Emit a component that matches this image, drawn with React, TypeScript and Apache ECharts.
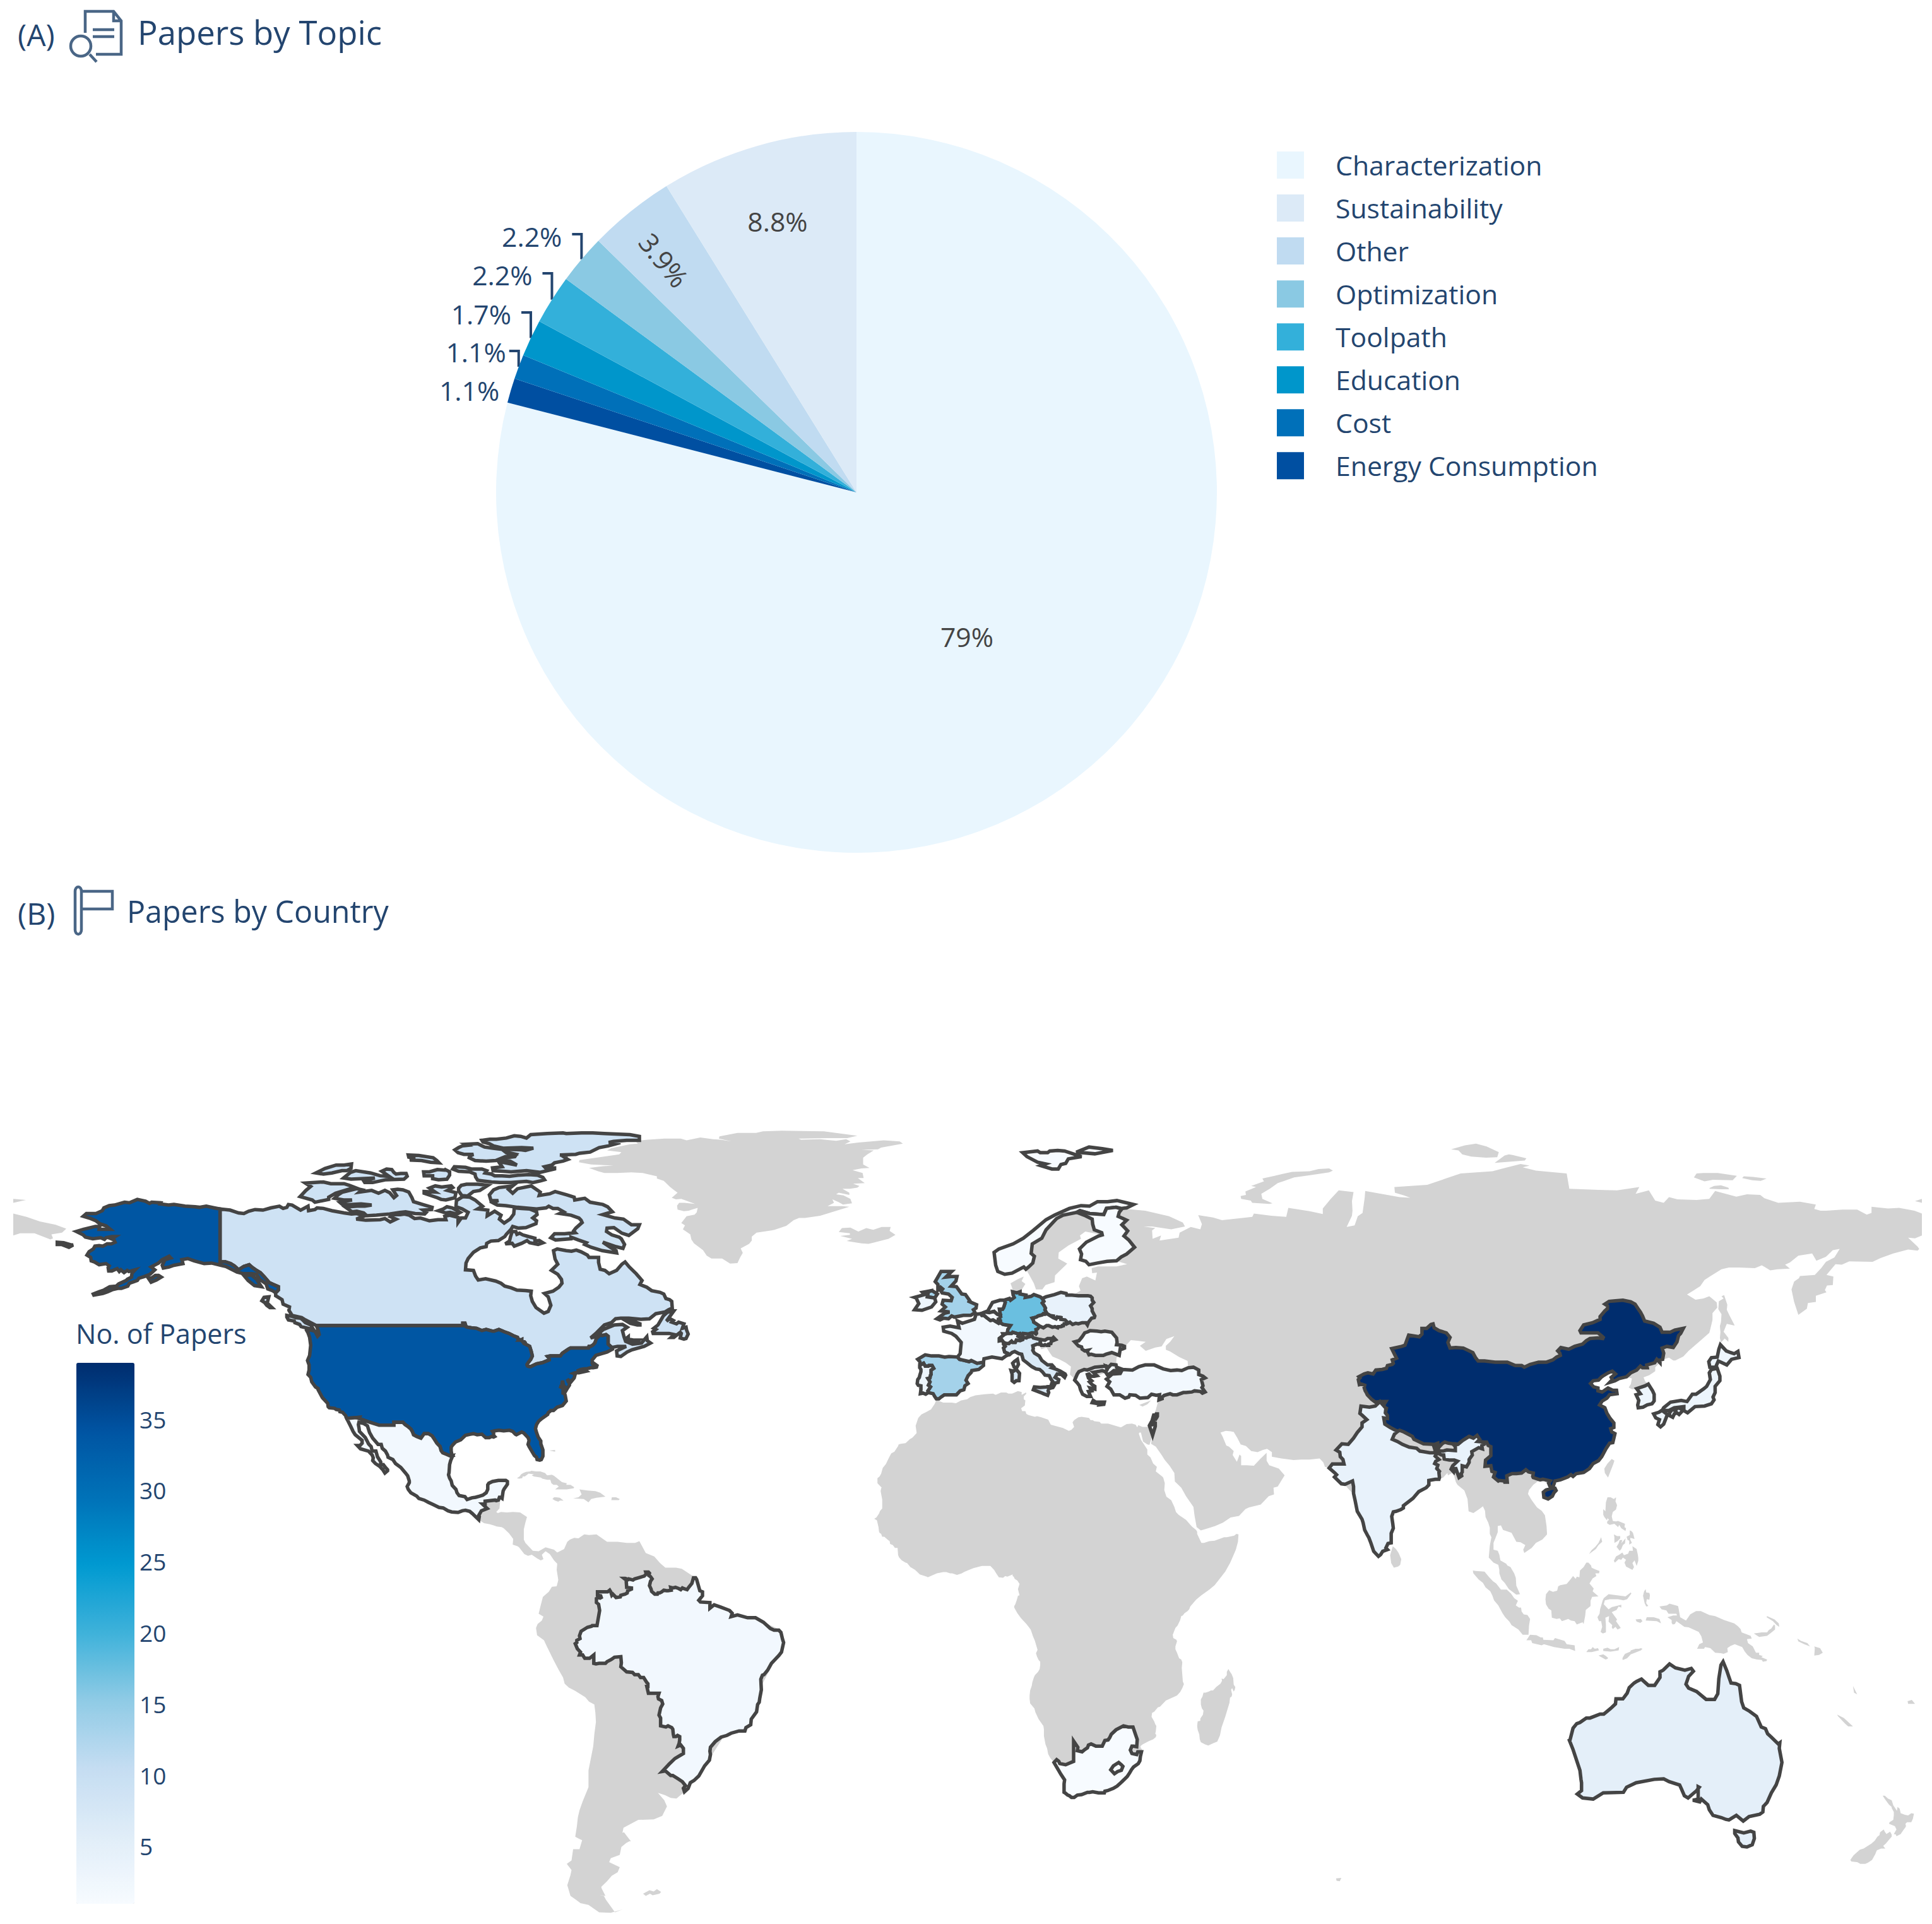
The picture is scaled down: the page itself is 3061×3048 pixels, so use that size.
import React, { useEffect, useRef } from "react";
import * as echarts from "echarts";

// ---------- Pie data ----------
const TOPICS = ["Characterization", "Energy Consumption", "Cost", "Education", "Toolpath", "Optimization", "Other", "Sustainability"];
const TOPIC_COUNTS = [143, 2, 2, 3, 4, 4, 7, 16];
const TOPIC_COLORS = ["#e9f6fe", "#004fa1", "#0070b9", "#0096cb", "#33b0da", "#8ac9e3", "#c0dbf1", "#dceaf7"];
const LEGEND_ORDER = ["Characterization", "Sustainability", "Other", "Optimization", "Toolpath", "Education", "Cost", "Energy Consumption"];

// ---------- Choropleth data ----------
const COUNTRY_VALUES: [string, number][] = [
  ["China", 39], ["United States", 34], ["Germany", 17.5], ["United Kingdom", 13.5], ["Spain", 13.5], ["Canada", 9],
  ["Italy", 7], ["Australia", 5], ["India", 4], ["Poland", 4], ["Japan", 3], ["South Korea", 3], ["Portugal", 3],
  ["Ireland", 3], ["Brazil", 2], ["Mexico", 2], ["France", 2], ["Turkey", 2], ["Switzerland", 2], ["Finland", 1],
  ["Norway", 1], ["Romania", 1], ["South Africa", 1], ["Greece", 1], ["Israel", 1], ["Czech Republic", 1],
  ["Netherlands", 1], ["Belgium", 1], ["Slovenia", 1], ["Lesotho", 1],
];
const COLOR_STOPS = ["#f7fbff", "#e0edf8", "#c5ddf2", "#90cbe5", "#3fb2da", "#009ad1", "#0072b8", "#0054a2", "#002d6e"];
const COLORBAR_TICKS = [5, 10, 15, 20, 25, 30, 35];
const COLORBAR_MIN = 1;
const COLORBAR_MAX = 39;

// ---------- Outlines, lon,lat ----------
const LAND: Record<string, string[]> = {
  Eurasia: ["-5.4,36.1 -4.4,36.7 -2.1,36.7 -0.7,37.6 0.2,38.8 -0.3,39.5 0.9,41 3.2,41.9 3.1,43.1 4.6,43.4 6.5,43.1 7.4,43.7 8.9,44.4 10.2,43.9 10.5,42.9 12.2,41.8 13.6,41.2 15.5,40 16,38.8 15.7,38 16.4,38.4 17.1,39 16.9,40.4 18.4,39.9 18.5,40.2 16.9,41.1 15.9,41.9 14.2,42.4 13.5,43.6 12.4,44.3 12.3,45 13.1,45.7 13.6,45.5 13.9,44.8 14.9,45.1 15.4,44.3 16,43.5 17.3,43 18.5,42.4 19.5,41.7 19.3,40.3 20.1,39.6 21.1,38.3 21.7,36.8 23.2,36.4 22.8,37.3 23.9,38 23.3,39 22.6,40.3 23.3,40 24.4,40.1 26.1,40.6 27.6,41 28.9,41.1 29.05,41.25 28.1,41.6 28,42 28.1,43.3 28.6,43.8 28.7,44.9 29.7,45.3 30.8,46.4 32,46.3 33.6,46.1 32.5,45.4 33.6,44.5 35.4,45.1 36.6,45.3 37.5,46.6 39,47.1 38.2,46.1 37.4,45.4 37.4,44.7 38.2,44.4 39.9,43.4 41.5,42.7 41.6,41.6 40,41 38,41 36.9,41.3 35.2,42 33.5,42 32.3,41.7 31.1,41.1 29.2,41.2 29,40.6 27.3,40.4 26.2,39.5 26.9,39 27.3,37.7 27.6,37 28.8,36.7 30.6,36.7 32.5,36.1 34.7,36.8 36.1,36.7 35.9,35.4 35.5,34 35,33 34.9,32.5 34.3,31.2 34.9,29.5 34.6,28 35.5,27.5 36.6,26 37.2,25.1 38.1,24.1 39,22.8 39.1,21.3 40.3,20.2 41.2,18.7 42.6,16.8 42.8,15.3 43.2,13.2 44,12.6 45.4,13 46.7,13.4 48.2,14 49.6,14.9 51.2,15.2 52.4,16.4 53.1,16.7 55.3,17.2 56.8,18.7 57.8,19 57.7,20.2 58.5,20.4 59.8,22.4 58.7,23.6 56.9,24.2 56.4,25 56.4,26.4 55.2,25.3 54,24.1 52.6,24.2 51.6,24.2 51.6,25.8 51.3,26.1 50.8,24.8 50,26 50.2,26.7 49.3,27.5 48.8,27.7 48.1,29.3 47.7,30 48.7,30.3 49.6,30.2 50.2,30.1 50.9,29 51.5,27.9 52.5,27.6 53.5,26.7 54.7,26.5 55.7,26.9 56.5,27.1 57.4,26.5 57.4,25.7 59.2,25.4 61.5,25.1 62.9,25.2 64.5,25.2 66.4,25.4 67.1,24.7 67.4,23.9 68.2,23.7 72.8,19 74.9,13 76.8,9 77.5,8 80,10.4 80.3,15.9 82.2,16.6 86.5,20.2 87,21.4 88.9,21.7 89.7,22 90.5,22.8 90.6,22.4 91.4,22.8 91.8,22.2 92.1,21.2 92.4,20.7 93.7,19.7 94.3,18.2 94.5,16 95.4,15.7 96.5,16.4 97.2,16.9 97.6,16.1 97.7,15 98.2,14 98.5,13.1 98.5,12 98.8,11.4 98.5,9.9 98.3,7.8 99.2,6.9 100.1,6.5 100.3,5.6 100.3,5 100.7,3.9 101.3,3.3 102.1,2.2 103.5,1.2 104.2,1.3 103.5,2.8 103.4,4.2 103.1,5 102.4,6.1 101.8,6.4 101.6,6.7 100.5,7.3 100.3,8.3 100,9 99.2,9.2 99.2,10.4 99.5,11.1 100,12.3 100,13.4 100.6,13.5 101,12.7 102.6,12.2 103.5,10.6 104.3,10.5 105.2,10 104.8,9.2 105,8.6 106.4,9.5 107.2,10.4 108.4,11 109.3,11.9 109.2,13.4 108.9,15.3 108.3,16.1 107.4,16.7 106.4,18 105.7,19.1 105.9,19.8 106.7,20.7 107.5,21.3 108.5,21.7 109.9,20.3 110.4,21.4 110.8,21.4 111.8,21.6 113.2,22.1 114.2,22.2 116.2,22.9 117.3,23.6 118,24.5 119,25 119.6,26 120.4,27.1 121.1,28.1 121.7,28.2 121.9,29 121.3,30.3 121.9,30.9 121.2,31.9 120,33 120.5,34.1 119.2,34.9 120.6,36.1 121.1,36.7 122.5,36.9 121,37.7 119.7,37.2 118.9,37.4 118,38 117.5,38.7 118.1,39.2 119,39.3 120,40 121.6,40.9 121.4,39.4 122.1,39.6 124.3,39.9 125.3,39.6 125.1,38.6 124.7,38 125.3,37.7 126.2,37.7 126.7,37.4 126.2,36.7 126.9,36.9 126.2,35.5 126.3,34.9 127.4,34.5 128.2,34.9 129.1,35.1 129.5,36 129.5,36.8 129.2,37.4 128.4,38.6 127.8,39.1 127.5,39.8 128.6,40.2 129.7,40.9 129.7,41.6 130.6,42.4 131.3,43 132.3,43.3 133.1,42.8 133.5,42.8 135,43.5 136,44.5 138.2,46.3 139.9,47.7 140.1,48.4 140.5,50 140.5,51.2 141.4,52.2 141.3,53.1 139.9,54.2 138.8,53.8 137.3,53.6 135.7,54.5 136.9,55.2 138.2,56 139,57.1 140,57.7 142.2,59 143.6,59.3 145.5,59.3 148.5,59.2 149.8,59.7 151.4,58.8 152.8,59 155.1,59.1 154.2,59.8 155.1,60.2 156.7,61.4 159.3,61.8 160.1,60.5 161.9,61.2 163.2,62.4 164.5,62.6 163.5,61.1 161.9,60.3 161,59.2 159.8,58 157,57.8 156.8,57.4 155.9,56.8 155.4,55.4 155.9,53.2 156.7,50.9 158.3,52 158.5,53 160,53.2 160,54.3 162,54.9 161.7,55.3 162.1,56.1 163.2,56.2 163.3,57.7 162,58 163.7,59.9 164.9,59.8 166.3,60.4 170.7,60.3 172.2,61 174.6,61.8 177.4,62.5 179.2,62.3 179.5,62.6 179.2,63 177.4,64.6 178.7,64.5 180,65 180,68.9 178.6,69.4 175.7,69.9 173.6,69.8 170.5,70.1 170.5,69 169.6,68.7 167.8,69.6 165,69.6 161.9,69.4 160.9,69.4 159.7,69.7 160,70.5 157,71 152.9,70.8 150.3,71.6 149.5,72.2 147,72.3 145,71.9 141,72.9 139.9,71.5 137.5,71.3 133.9,71.4 132.3,71.8 131.3,70.8 129.7,71.2 128.5,73 126,72.4 126.7,73.6 122.5,73 119,73.1 113.5,73.3 113,76 107.2,76.5 104.7,77.1 106,77.4 104.3,77.7 101,76.9 99,76.4 93,76 86.7,74 80.5,73.6 80.6,72.6 82.3,72.1 83.5,71.7 81.5,71.8 78,72.4 75,72.9 74.9,71.7 74.5,69 73.6,68.4 73,66.8 71.5,66.5 72.5,68.5 72.6,69.4 72.5,71.1 72.8,72.7 70,73 68.5,71.5 67,69.8 67,68.8 64.5,69.3 60.5,69.9 60.1,68.3 57.3,68.5 54,68.9 53.7,68.3 48,67.7 46.3,68.2 43.5,68.6 44.2,67 43.9,66.1 42.1,66.5 40,65.5 39.8,64.6 36.2,64.1 36.5,65 34.9,64.4 34.8,65.9 35.4,66.3 33.2,66.6 34.8,66.6 38.4,66.1 41,66.6 40.6,67.3 38,68.4 33.5,69.4 30,69.7 31,70.3 28,71.1 25.7,71.1 23,70.2 19,69.8 16,68.6 14,67 12.7,65 10,63.5 6,62.5 5,61 5.3,59.5 5.7,58.6 7,58 8.5,58.3 10.4,59.4 11,59 11.5,58.2 12.5,56.5 12.9,55.4 14.1,55.4 14.7,56.2 16.4,56.7 16.5,57.9 18.8,60 17.1,60.9 17.2,62 19,63.2 21.4,64.4 21.2,65 22.2,65.7 25.4,65.1 23.9,64 21.5,63 21.4,61.5 21.3,60.7 22.9,59.8 25.4,60.4 28,60.5 30.1,59.9 28.1,59.5 24.6,59.5 23.4,59.2 23.5,58.3 24.4,58.4 24.1,57 22.5,57.7 21.6,57.4 21,56 21.3,55.2 19.9,54.4 18.6,54.7 17.6,54.9 16.4,54.4 14.1,53.8 12.3,54.2 10.9,54 11,54.4 9.9,54.9 10.9,56.4 10.2,56.9 10.6,57.7 9.4,57.2 8.1,56.5 8.5,55.4 8.5,54.4 8.9,53.9 7.9,53.7 7.1,53.7 5,52.4 4,51.3 2.5,51.1 1.6,50.9 0.2,49.7 -1.2,49.4 -1.9,49.7 -1.6,48.6 -4.6,48.7 -4.5,47.9 -2.2,47.1 -1.2,46 -1.6,43.6 -1.9,43.4 -4.3,43.4 -8,43.7 -9.3,43 -9,41.9 -8.8,40.8 -9.4,39.4 -9.5,38.7 -8.9,37 -7.5,37.1 -6.2,36.4 -5.4,36.1"],
  Chukotka: ["-180,65 -178.7,65.4 -176,65.4 -173,64.3 -172.5,64.5 -172.8,65.2 -170.8,65.5 -170,66.2 -172,66.9 -175,67.5 -177.5,68.3 -180,68.9"],
  Africa: ["-5.9,35.8 -4.6,35.3 -3,35.3 -2.2,35.2 -1.2,35.7 -0.1,35.9 0.5,36.3 1.5,36.6 3.2,36.8 4.8,36.9 5.3,36.7 6.3,37.1 7.3,37.1 7.7,36.9 8.4,36.9 9.5,37.35 10.2,37.2 10.2,36.7 11,37.1 11.1,36.9 10.6,36.4 10.6,35.9 10.9,35.7 10.8,34.8 10.1,34.3 10.3,33.8 10.9,33.8 11.1,33.3 11.5,33.1 12.7,32.8 13.1,32.9 13.9,32.7 15.2,32.3 15.7,31.4 18,30.8 19.1,30.3 19.6,30.5 20.1,31 19.8,31.8 20.1,32.2 20.9,32.7 21.5,32.8 22.9,32.6 23.2,32.2 23.6,32.2 23.9,32 24.9,31.9 25.2,31.6 26.5,31.6 28.9,30.9 30,31.5 31,31.6 31.7,31.4 32,30.9 32.2,31.3 33,31 33.8,31 34.3,31.2 34.9,29.5 34.3,27.8 33.9,27.9 33.1,28.4 32.7,30 32.4,30 32.3,29.8 32.7,28.7 33.2,28 33.9,27 33.9,26.1 34.5,25.6 35,24.5 35.7,23.9 35.5,23.1 36.7,22.2 36.9,22 37.2,21 37.1,19.8 37.5,18.6 38.4,18 39,16.8 39.3,15.9 39.8,15.4 41.2,14.5 42.3,13.3 43.1,12.7 43.3,12.4 43.3,12 44.1,10.4 44.6,10.4 45.6,10.7 46.6,10.8 47.5,11.1 48.4,11.4 48.9,11.4 50.3,11.7 50.7,12 51.1,11.9 51,10.6 50.6,9.2 50.1,8.1 49.5,6.8 48.6,5.3 47.7,4.2 46.6,2.9 45.6,2.1 44.1,1.1 43.1,0.3 42,-0.9 41.8,-1.4 41.5,-1.7 40.9,-2.1 40.6,-2.5 40.3,-2.6 40.1,-3.3 39.6,-4.3 39.2,-4.7 38.7,-5.9 38.8,-6.5 39.4,-6.8 39.5,-7.1 39.2,-8 39.2,-8.5 39.5,-9.1 39.9,-10.1 40.3,-10.3 40.5,-10.8 40.4,-11.8 40.6,-14.2 40.8,-14.7 40.5,-15.4 40.1,-16.1 39.5,-16.7 37.4,-17.6 36.3,-18.7 35.9,-18.8 35.2,-19.6 34.8,-19.8 34.7,-20.5 35.2,-21.3 35.4,-21.8 35.6,-22.1 35.5,-23.1 35.4,-23.5 35.6,-23.7 35.5,-24.1 35,-24.5 34.2,-24.8 33,-25.4 32.6,-25.7 32.7,-26.1 32.9,-26.2 32.8,-26.7 32.6,-27.5 32.5,-28.3 32.2,-28.8 31.3,-29.4 30.9,-29.9 30.6,-30.4 30.1,-31.1 28.9,-32.2 28.2,-32.8 27.5,-33.2 26.4,-33.6 25.9,-33.7 25.8,-34 25.2,-34 24.7,-34 23.6,-33.8 23,-33.9 22.6,-33.9 21.5,-34.3 20.7,-34.4 20.1,-34.8 19.6,-34.8 19.2,-34.5 18.9,-34.4 18.4,-34 18.2,-33.9 18.2,-33.3 18.2,-32.4 18.2,-31.7 17.6,-30.7 17.1,-29.9 16.3,-28.6 15.6,-27.8 15.2,-27.1 15,-26.1 14.7,-25.4 14.4,-23.9 14.4,-22.7 14.3,-22.1 13.4,-20.9 12.8,-19.7 12.6,-19 11.8,-18.1 11.7,-17.3 11.7,-16.7 11.8,-15.8 12.1,-15 12.2,-14.4 12.5,-13.5 12.7,-13.1 13.3,-12.5 13.6,-12 13.7,-11.3 13.7,-10.7 13.4,-10.4 13.1,-9.8 12.9,-9.2 13.2,-8.6 12.7,-7 12.3,-6.1 12.2,-5.8 11.9,-5 11.1,-4 10.1,-3 9.4,-2.1 8.8,-1.1 8.8,-0.8 9,-0.5 9.3,0.3 9.5,1 9.8,1.1 9.5,2.2 9.8,3.1 9.4,3.7 8.9,4 8.7,4.4 8.5,4.5 8.5,4.8 7.5,4.4 7.1,4.5 6.7,4.2 5.9,4.3 5.4,5 5,5.6 4.3,6.3 3.6,6.3 2.7,6.3 1.9,6.1 1.1,5.9 0.5,5.7 -0.5,5.3 -1.1,5 -2,4.7 -2.9,5 -3.3,5 -4,5.2 -4.6,5.2 -5.8,5 -7.5,4.3 -7.7,4.4 -9,4.8 -9.9,5.6 -10.8,6.1 -11.4,6.8 -11.7,6.9 -12.4,7.3 -12.9,7.8 -13.1,8.2 -13.2,9.5 -13.7,9.5 -14.1,10 -14.6,10.2 -14.7,10.7 -15.1,11 -15.7,11.5 -16.1,11.5 -16.3,12 -16.6,12.2 -16.7,12.4 -16.8,13.2 -17.1,14.4 -17.6,14.7 -17.2,14.9 -16.7,15.6 -16.5,16.1 -16.1,16.5 -16.1,18.1 -16.3,19.1 -16.4,19.6 -16.3,20.1 -16.2,20.2 -17,21 -17,21.4 -17,21.9 -16.6,22.2 -16.3,22.7 -16,23.7 -15.4,24.4 -15.1,25 -14.8,25.6 -14.4,26.3 -13.8,26.6 -13.1,27.6 -13,27.9 -12.6,28 -11.7,28.1 -10.9,28.8 -10.4,29.1 -9.6,29.9 -9.8,31.2 -9.3,32.6 -8.7,33.2 -7.7,33.7 -6.9,34.1 -6.2,35.1 -5.9,35.8"],
  Americas: ["-92.2,14.5 -91.2,13.9 -90.1,13.7 -89.4,13.5 -88.8,13.3 -87.9,13.2 -87.5,13 -86.5,12.1 -85.7,11.1 -85.8,10.1 -84.9,9.8 -84.6,9.6 -83.6,8.4 -82.9,8.1 -82.2,8.3 -81.2,7.65 -80.5,7.3 -80,7.5 -80.3,8.3 -79.6,8.9 -78.8,8.4 -78,7.3 -77.4,6.7 -77.5,5.6 -77.2,3.8 -77.5,2.7 -78.4,2.6 -79,1.7 -80.1,0.8 -80.6,-1 -80.9,-2.2 -80,-2.7 -80.3,-3.4 -81.1,-4 -81.4,-4.7 -81.2,-6 -79.9,-6.9 -79.4,-7.9 -78.1,-10.4 -77.1,-12.2 -76.3,-13.5 -76,-14.6 -75.2,-15.3 -74,-15.9 -72.1,-17 -71.4,-17.8 -70.4,-18.3 -70.2,-19.8 -70.1,-21.4 -70.4,-23.6 -70.6,-25.7 -71,-27.6 -71.5,-30 -71.5,-33 -72.6,-35.5 -73.2,-37.1 -73.5,-38.3 -73.7,-40 -74,-41.8 -73.4,-42.1 -72.7,-42.4 -73.2,-44 -74.4,-44 -74.7,-46 -75.6,-46.6 -74.7,-47.7 -74.9,-48.6 -75.5,-50.4 -74.9,-52.3 -74,-52.9 -73,-53.6 -71.5,-53.9 -69.5,-55.2 -67.3,-55.3 -65.1,-54.7 -66.5,-55.2 -68.2,-53 -68.6,-52.3 -69.5,-52.1 -68.3,-52.3 -69,-51 -69.1,-50.7 -68,-49.7 -67.1,-48.7 -66,-48.1 -65.6,-47.2 -67.6,-46.3 -67.3,-45.6 -65.6,-45 -65.3,-43.6 -64.4,-42.9 -63.8,-42.6 -63.5,-42.6 -64.8,-41 -65.1,-41.1 -64.9,-40.2 -62.1,-38.8 -59.2,-38.7 -57.6,-38.1 -56.7,-36.4 -57.2,-35.3 -58.4,-34 -57.1,-34.4 -56,-34.9 -54.9,-35 -53.4,-33.8 -52.7,-33.2 -51,-31 -48.7,-28 -46,-24 -42,-23 -40,-20 -38.9,-15 -35,-8 -35.5,-5 -40,-3 -44,-2.5 -48,-1 -50,0 -51.3,4.2 -52.6,5 -53.9,5.8 -55,6 -57,6 -58,6.8 -59.1,8 -60.7,8.6 -61.9,10.7 -62.7,10.4 -64.3,10.4 -66,10.6 -68,10.6 -70,11.9 -71.4,11.8 -72.3,11.9 -73.4,11.2 -74.2,11.3 -75,11 -75.5,10.6 -76.1,9.3 -77.4,8.7 -78,9.2 -79.6,9.6 -80.9,8.9 -82,9 -83.4,10.4 -83.7,11 -83.7,12.8 -83.4,14 -83.1,15 -84.4,15.8 -85.7,15.9 -86.9,15.8 -88,15.9 -88.6,15.7 -88.9,15.9 -88.3,16.5 -88.2,17.5 -88.1,18.4 -88.3,18.5 -91,17.8 -91,17.2 -90.6,16.5 -91.7,16.1 -92.2,15.2 -92.2,14.5"],
  Greenland: ["-46.8,82.6 -43.4,83.2 -39.9,83.2 -38.6,83.5 -35.1,83.6 -27.1,83.5 -20.8,82.7 -22.7,82.3 -26.5,82.3 -31.9,82.2 -31.4,82 -27.9,82.1 -24.8,81.8 -22.9,82.1 -22.1,81.7 -23.2,81.2 -20.6,81.5 -15.8,81.9 -12.8,81.7 -12.2,81.3 -16.3,80.6 -16.9,80.3 -20,80.2 -17.7,80.1 -18.9,79.4 -19.7,78.8 -19.7,77.6 -18.5,77 -20,76.9 -21.7,76.6 -19.8,76.1 -19.6,75.2 -20.7,75.2 -19.4,74.3 -21.6,74.2 -20.4,73.8 -20.8,73.5 -22.2,73.3 -23.6,73.3 -22.3,72.6 -22.3,72.2 -24.3,72.6 -24.8,72.3 -23.4,72.1 -22.1,71.5 -21.8,70.7 -23.5,70.5 -24.3,70.9 -25.5,71.4 -25.2,70.8 -26.4,70.2 -23.7,70.2 -22.3,70.1 -25,69.3 -27.8,68.5 -30.7,68.1 -31.8,68.1 -32.8,67.7 -34.2,66.7 -36.4,66 -37,65.9 -38.4,65.7 -39.8,65.5 -40.7,64.8 -40.7,64.1 -41.2,63.5 -42.8,62.7 -42.4,61.9 -42.9,61.1 -43.4,60.1 -44.8,60 -46.3,60.9 -48.3,60.9 -49.2,61.4 -49.9,62.4 -51.6,63.6 -52.1,64.3 -52.3,65.2 -53.7,66.1 -53.3,66.8 -54,67.2 -53,68.4 -51.5,68.7 -51.1,69.1 -50.9,69.9 -52,69.6 -52.6,69.4 -53.5,69.3 -54.7,69.6 -54.8,70.3 -54.4,70.8 -53.4,70.8 -51.4,70.6 -53.1,71.2 -54,71.5 -55,71.4 -55.8,71.7 -54.7,72.6 -55.3,73 -56.1,73.6 -57.3,74.7 -58.6,75.1 -58.6,75.5 -61.3,76.1 -63.4,76.2 -66.1,76.1 -68.5,76.1 -69.7,76.4 -71.4,77 -68.8,77.3 -66.8,77.4 -71,77.6 -73.3,78 -73.2,78.4 -69.4,78.9 -65.7,79.4 -65.3,79.8 -68,80.1 -67.2,80.5 -63.7,81.2 -62.2,81.3 -62.7,81.8 -60.3,82 -57.2,82.2 -54.1,82.2 -53,81.9 -50.4,82.4 -48,82.1 -46.6,82 -44.5,81.7 -46.9,82.2 -46.8,82.6"],
  Islands: [
    "-14.5,66.5 -14.7,65.8 -13.6,65.1 -14.9,64.4 -17.8,63.7 -18.7,63.5 -20,63.6 -22.8,64 -21.8,64.4 -24,64.9 -22.2,65.1 -22.2,65.4 -24.3,65.6 -23.7,66.3 -22.1,66.4 -20.6,65.7 -19.1,66.3 -17.8,66 -16.2,66.5 -14.5,66.5",
    "53.5,73.8 55.9,74.6 55.6,75.1 57.9,75.6 61.2,76.3 64.5,76.4 66.2,76.8 68.2,76.9 68.9,76.5 68.2,76.2 64.6,75.7 61.6,75.3 58.5,74.3 57,73.3 55.4,72.4 55.6,71.5 57.5,70.7 56.9,70.6 53.7,70.8 53.4,71.2 51.6,71.5 51.5,72 52.5,72.2 52.4,72.8 54.4,73.6 53.5,73.8",
    "143.7,50.8 144.7,49 143.2,49.3 142.6,47.9 143.5,46.8 143.5,46.1 142.8,46.7 142.1,46 141.9,46.8 142,47.8 141.9,48.9 142.1,49.6 142.2,51 141.6,51.9 141.7,53.3 142.6,53.8 142.2,54.2 142.7,54.4 143.3,52.7 143.2,51.8 143.7,50.8",
    "121.8,24.4 120.8,22 120.2,22.8 120.1,23.6 120.7,24.5 121.5,25.3 122,25 121.8,24.4",
    "81.8,7.5 81.6,6.5 81.2,6.2 80.4,6 79.9,6.8 79.7,8.2 80.2,9.8 80.8,9.3 81.3,8.6 81.8,7.5",
    "49.5,-12.5 49.8,-12.9 50.1,-13.6 50.2,-14.8 50.5,-15.2 50.4,-15.7 50.2,-16 49.9,-15.4 49.7,-15.7 49.9,-16.5 49.8,-16.9 49.5,-17.1 49.4,-18 48.6,-20.5 47.9,-22.4 47.6,-23.8 47.1,-24.9 46.3,-25.2 45.4,-25.6 44.8,-25.4 44,-25 43.8,-24.5 43.7,-23.6 43.4,-22.8 43.3,-22.1 43.4,-21.3 43.9,-21.2 43.9,-20.8 44.4,-20.1 44.5,-19.4 44.2,-19 44,-18.3 44,-17.4 44.3,-16.9 44.5,-16.2 44.9,-16.2 45.5,-16 45.9,-15.8 46.3,-15.8 46.9,-15.2 47.7,-14.6 48,-14.1 47.9,-13.7 48.3,-13.8 48.9,-13.1 48.9,-12.5 49.2,-12 49.5,-12.5",
    "95.3,5.5 95.9,5.4 97.5,5.3 98.4,4.3 99.1,3.6 99.7,3.2 100.6,2.1 101.7,2.1 102.5,1.4 103.1,0.6 103.8,0.1 103.4,-0.7 104,-1.1 104.4,-1.1 104.5,-1.8 104.9,-2.3 105.6,-2.4 106.1,-3.1 105.9,-4.3 105.8,-5.9 104.7,-5.9 103.9,-5 102.6,-4.2 102.2,-3.6 101.4,-2.8 100.9,-2.1 100.1,-0.7 99.3,0.2 99,1 98.6,1.8 97.7,2.5 97.2,3.3 96.4,3.9 95.4,5 95.3,5.5",
    "106.1,-5.9 107.3,-6 108.1,-6.4 108.5,-6.4 108.6,-6.8 110.5,-6.9 110.8,-6.5 112.6,-7 113,-7.6 114.5,-7.8 114.6,-8.8 113.5,-8.4 112.6,-8.4 110.6,-8.1 108.7,-7.6 108.3,-7.8 106.5,-7.4 106.3,-6.9 105.4,-6.9 106.1,-5.9",
    "117.9,4.1 117.3,3.2 118.1,2.3 117.9,1.8 119,0.9 117.8,0.8 117.5,0.1 117.5,-0.8 116.6,-1.5 116.5,-2.5 116.2,-4 116,-3.7 114.9,-4.1 114.5,-3.5 113.8,-3.4 113.3,-3.1 112.1,-3.5 111.7,-3 111.1,-3.1 110.2,-2.9 110.1,-1.6 109.6,-1.3 109.1,-0.5 109,0.4 109.1,1.3 109.7,2 110.4,1.7 111.2,1.9 111.4,2.7 111.8,2.9 113,3.1 113.7,3.9 114.2,4.5 114.7,4 114.9,4.4 115.4,4.3 115.5,5.5 116.2,6.1 116.7,6.9 117.1,6.9 117.6,6.4 117.7,6 118.4,5.7 119.2,5.4 119.1,5 118.4,5 118.6,4.5 117.9,4.1",
    "125.1,1.6 125.2,1.4 124.4,0.4 123.7,0.2 122.7,0.4 121.1,0.4 120.2,0.2 120,-0.5 120.9,-1.4 121.5,-1 123.3,-0.6 123.3,-1.1 122.8,-0.9 122.4,-1.5 121.5,-1.9 122.5,-3.2 122.3,-3.5 123.2,-4.7 122.6,-5 122.2,-4.5 121.7,-4.9 121.5,-4.6 121.6,-4.2 120.9,-3.6 121,-2.6 120.3,-2.9 120.4,-4.1 120.4,-5.5 119.8,-5.7 119.4,-5.4 119.7,-4.5 119.5,-3.5 119.1,-3.5 118.8,-2.8 119.2,-2.2 119.3,-1.4 119.8,0.2 120,0.6 120.9,1.3 124.1,0.9 125.1,1.6",
    "141,-2.6 142.7,-3.3 144.6,-3.9 145.3,-4.4 145.8,-4.9 146,-5.5 147.7,-6.1 147.9,-6.6 147,-6.7 147.2,-7.4 148.1,-8 148.7,-9.1 149.3,-9.1 149.3,-9.5 150,-9.7 149.7,-9.9 150.8,-10.3 150.7,-10.6 150,-10.7 149.8,-10.4 148.9,-10.3 147.9,-10.1 147.1,-9.5 146.6,-8.9 146.1,-8.1 144.7,-7.6 143.9,-7.9 143.3,-8.3 143.4,-9 142.6,-9.3 142.1,-9.2 141,-9.1 140.1,-8.3 139.1,-8.1 138.9,-8.4 137.6,-8.4 138,-7.6 138.7,-7.3 138.4,-6.2 137.9,-5.4 136,-4.6 135.2,-4.5 133.7,-3.5 133.4,-4 133,-4.1 132.8,-3.8 132.8,-3.3 132,-2.8 133.1,-2.5 133.8,-2.5 133.7,-2.2 132.2,-2.2 131.8,-1.6 130.9,-1.4 130.5,-0.9 131.9,-0.7 132.4,-0.4 134,-0.8 134.1,-1.2 134.4,-2.8 135.5,-3.4 136.3,-2.3 137.4,-1.7 138.3,-1.7 139.2,-2.1 139.9,-2.4 141,-2.6",
    "121.3,18.5 121.9,18.2 122.3,18.5 122.3,18.2 122.2,17.8 122.5,17.1 122.3,16.3 121.7,15.9 121.5,15.1 121.7,14.3 122.3,14.2 122.7,14.3 124,13.8 123.9,13.2 124.2,13 124.1,12.5 123.3,13 122.9,13.6 122.7,13.2 122,13.8 121.1,13.6 120.6,13.9 120.7,14.3 121,14.5 120.7,14.8 120.6,14.4 120.1,15 119.9,15.4 119.9,16.4 120.3,16 120.4,17.6 120.7,18.5 121.3,18.5",
    "126.4,8.4 126.5,7.8 126.5,7.2 126.2,6.3 125.8,7.3 125.4,6.8 125.7,6.1 125.4,5.6 124.2,6.2 123.9,6.9 124.2,7.4 123.6,7.8 123.3,7.4 122.8,7.5 122.1,6.9 121.9,7.2 122.3,8 122.9,8.3 123.5,8.7 123.8,8.2 124.6,8.5 124.8,9 125.5,9 125.4,9.8 126.2,9.3 126.3,8.8 126.4,8.4",
    "119.7,10.6 119,10 118.5,9.3 117.2,8.4 117.7,9.1 118.4,9.7 119,10.4 119.5,11.4 119.7,10.6",
    "124,10.3 123.6,10 123.3,9.3 123,9 122.4,9.7 122.6,10 122.8,10.3 123,10.9 123.5,10.9 123.3,10.3 124.1,11.2 124,10.3",
    "125.2,12.5 125.5,12.2 125.8,11.1 125,11.3 125,11 125.3,10.4 124.8,10.1 124.8,10.8 124.5,10.9 124.3,11.5 124.9,11.8 124.9,12.6 125.2,12.5",
    "122.5,11.6 123.1,11.6 123.1,11.2 122.6,10.7 122,10.4 122,10.9 122,11.4 121.9,11.9 122.5,11.6",
    "125,-8.9 125.1,-8.7 126,-8.4 126.6,-8.4 127,-8.3 127.3,-8.4 127,-8.7 125.9,-9.1 125.1,-9.4 124.4,-10.1 123.6,-10.4 123.5,-10.2 123.6,-9.9 124,-9.3 125,-8.9",
    "119.9,-8.4 120.7,-8.2 121.3,-8.5 122,-8.5 122.9,-8.1 122.8,-8.7 121.3,-8.9 119.9,-8.8 119.9,-8.4",
    "120.7,-10.2 120.3,-10.3 119,-9.6 119.9,-9.4 120.4,-9.7 120.8,-10 120.7,-10.2",
    "117.9,-8.1 118.3,-8.4 118.9,-8.3 119.1,-8.7 117.7,-9 116.7,-9 117.1,-8.5 117.6,-8.5 117.9,-8.1",
    "128.7,1.1 128.6,0.3 128.1,0.4 128,-0.3 128.4,-0.8 128,-0.9 127.7,-0.3 127.4,1 127.6,1.8 127.9,2.2 128,1.6 128.6,1.5 128.7,1.1",
    "129.4,-2.8 130.5,-3.1 130.8,-3.9 130,-3.5 127.9,-3.4 128.1,-2.8 129.4,-2.8",
    "127,-3.1 127.3,-3.5 126.9,-3.8 126.2,-3.6 126,-3.2 127,-3.1",
    "148.3,-5.7 149.8,-5.5 150.8,-5.5 151.1,-5.1 151.6,-4.8 152.1,-4.1 152.3,-4.3 152.3,-5 151.5,-5.6 150.8,-6.1 149.3,-6.3 148.3,-5.7",
    "150.8,-2.6 152.2,-3.2 153,-3.9 153.1,-4.5 152.6,-4.2 151.9,-3.5 150.7,-2.8 150.8,-2.6",
    "159.7,-8 160.8,-8.3 161.3,-9.1 160.6,-9.5 159.7,-9.6 159.8,-8.3 159.7,-8",
    "156.5,-6.6 157.2,-7 158.4,-7.4 158.9,-8 157.8,-7.6 156.7,-7.1 156.5,-6.6",
    "167,-15 167.8,-16.5 167.2,-16.2 167,-15",
    "164,-20.1 165.3,-20.7 167,-22.2 166.1,-22.2 165.5,-21.7 164.2,-20.4 164,-20.1",
    "178.1,-17.5 178.7,-18.2 177.4,-18.2 177.3,-17.7 178.1,-17.5",
    "174.6,-36.2 175.3,-37.2 175.4,-36.5 175.8,-36.8 176,-37.6 176.8,-37.9 177.4,-38 178,-37.6 178.5,-37.7 178.3,-38.6 178,-39.2 177.2,-39.2 176.9,-39.5 177,-39.9 176.9,-40.1 176.5,-40.6 176,-41.3 175.2,-41.7 175.1,-41.4 174.7,-41.3 175.2,-40.5 174.9,-39.9 173.8,-39.5 173.9,-39.2 174.6,-38.8 174.7,-38 174.7,-37.4 174.3,-36.7 174.3,-36.5 173.8,-36.1 173.1,-35.2 172.6,-34.5 173,-34.5 173.6,-35 174.3,-35.3 174.6,-36.2",
    "172.8,-40.5 173,-40.9 173.3,-41.3 174,-40.9 174.3,-41.4 174.3,-41.8 173.9,-42.2 173.2,-43 172.7,-43.4 173.1,-43.9 172.3,-43.9 171.5,-44.2 171.2,-44.9 170.6,-45.9 169.8,-46.4 169.3,-46.6 168.4,-46.6 167.8,-46.3 166.7,-46.2 166.5,-45.9 167.1,-45.1 168.3,-44.1 169,-43.9 170.5,-43 171.1,-42.5 171.6,-41.8 172,-41.5 172.1,-41 172.8,-40.5",
    "-82.3,23.2 -81.4,23.1 -80.6,23.1 -79.7,22.8 -79.3,22.4 -78.4,22.5 -78,22.3 -76.5,21.2 -75.6,21 -75.7,20.7 -74.9,20.7 -74.2,20.3 -74.3,20.1 -75.6,19.9 -77.8,19.9 -77.1,20.4 -77.5,20.7 -78.1,20.7 -78.5,21 -78.7,21.6 -79.3,21.6 -80.2,21.8 -80.5,22 -81.8,22.2 -82.2,22.4 -81.8,22.6 -82.8,22.7 -83.5,22.2 -83.9,22.2 -84,21.9 -84.6,21.8 -85,21.9 -84.5,22.2 -84.2,22.6 -83.8,22.8 -83.3,23 -82.5,23.1 -82.3,23.2",
    "-73.2,19.9 -71.7,19.7 -70.2,19.6 -69.3,19.3 -68.3,18.6 -70,18.4 -71,18.2 -71.5,17.6 -72.4,18.2 -74.4,18.3 -73.4,18.5 -72.8,19 -73.2,19.9",
    "-77.6,18.5 -76.9,18.4 -76.2,17.9 -76.9,17.9 -77.2,17.7 -77.8,17.9 -78.3,18.2 -78,18.5 -77.6,18.5",
    "-66.3,18.5 -65.6,18.2 -65.8,18 -66.6,18 -67.2,18 -67.1,18.5 -66.3,18.5",
    "-77.8,26.6 -78.9,26.8 -77.8,26.9 -77.8,26.6",
    "-61.2,-51.9 -60,-51.3 -59.2,-51.5 -58.6,-51.1 -57.8,-51.6 -58.1,-51.9 -59.4,-52.2 -59.9,-51.9 -60.7,-52.3 -61.2,-51.9",
    "105.1,78.3 99.4,77.9 101.3,79.2 102.1,79.4 102.8,79.3 105.4,78.7 105.1,78.3",
    "99.9,78.9 97.8,78.8 95,79 93.3,79.4 92.6,80.1 91.2,80.3 93.8,81 95.9,81.3 97.9,80.8 100.2,79.8 99.9,78.9",
    "143.6,73.2 142.1,73.2 140,73.3 139.9,73.4 140.8,73.8 142.1,73.9 143.5,73.5 143.6,73.2",
    "150.7,75.1 149.6,74.7 148,74.8 146.1,75.2 146.4,75.5 148.2,75.4 150.7,75.1",
    "145.1,75.6 144.3,74.8 140.6,74.9 139,74.6 137,75.3 137.5,76 138.8,76.1 141.5,76.1 145.1,75.6",
    "180,71.5 178.7,71.1 180,70.8 180,71.5",
    "-180,70.8 -177.6,71.3 -180,71.5 -180,70.8",
    "32.9,35.1 34.6,35.7 33.9,35 33,34.6 32.4,34.9 32.9,35.1",
    "69.5,-49.2 70.5,-49.1 70.2,-49.7 69.6,-49.6 69.5,-49.2",
  ],
};

const COUNTRIES: Record<string, string[]> = {
  Canada: [
    "-122.84,49 -124.9,50 -125.6,50.4 -127.4,50.8 -128,51.7 -127.9,52.3 -129.1,52.8 -129.3,53.6 -130.5,54.3 -130.5,54.8 -130,55.3 -130,55.9 -131.7,56.6 -132.7,57.7 -133.4,58.4 -134.3,58.9 -134.9,59.3 -135.5,59.8 -136.5,59.5 -137.5,58.9 -138.3,59.6 -139,60 -140,60.3 -141,60.3 -141,66 -141,69.7 -139.1,69.5 -137.5,69 -136.5,68.9 -135.6,69.3 -134.4,69.6 -132.9,69.5 -131.4,69.9 -129.8,70.2 -129.1,69.8 -128.4,70 -128.1,70.5 -127.4,70.4 -125.8,69.5 -124.4,70.2 -124.3,69.4 -123.1,69.6 -122.7,69.9 -121.5,69.8 -119.9,69.4 -117.6,69 -116.2,68.8 -115.2,68.9 -113.9,68.4 -115.3,67.9 -113.5,67.7 -110.8,67.8 -109.9,68 -108.9,67.4 -107.8,67.9 -108.8,68.3 -108.2,68.7 -107,68.7 -106.2,68.8 -105.3,68.6 -104.3,68 -103.2,68.1 -101.5,67.6 -99.9,67.8 -98.4,67.8 -98.6,68.4 -97.7,68.6 -96.1,68.2 -96.1,67.3 -95.5,68.1 -94.7,68.1 -94.2,69.1 -95.3,69.7 -96.5,70.1 -96.4,71.2 -95.2,71.9 -93.9,71.8 -92.9,71.3 -91.5,70.2 -92.4,69.7 -90.5,69.5 -90.6,68.5 -89.2,69.3 -88,68.6 -88.3,67.9 -87.4,67.2 -86.3,67.9 -85.6,68.8 -85.5,69.9 -84.1,69.8 -82.6,69.7 -81.3,69.2 -81.2,68.7 -82,68.1 -81.3,67.6 -81.4,67.1 -83.3,66.4 -84.7,66.3 -85.8,66.6 -86.1,66.1 -87,65.2 -87.3,64.8 -88.5,64.1 -89.9,64 -90.7,63.6 -90.8,63 -91.9,62.8 -93.2,62 -94.2,60.9 -94.6,60.1 -94.7,58.9 -93.2,58.8 -92.8,57.8 -92.3,57.1 -90.9,57.3 -89,56.9 -88,56.5 -87.3,56 -86.1,55.7 -85,55.3 -83.4,55.2 -82.3,55.1 -82.4,54.3 -82.1,53.3 -81.4,52.2 -79.9,51.2 -79.1,51.5 -78.6,52.6 -79.1,54.1 -79.8,54.7 -78.2,55.1 -77.1,55.8 -76.5,56.5 -76.6,57.2 -77.3,58.1 -78.5,58.8 -77.3,59.9 -77.8,60.8 -78.1,62.3 -77.4,62.6 -75.7,62.3 -74.7,62.2 -73.8,62.4 -72.9,62.1 -71.7,61.5 -71.4,61.1 -69.6,61.1 -69.6,60.2 -69.3,59 -68.4,58.8 -67.6,58.2 -66.2,58.8 -65.2,59.9 -64.6,60.3 -63.8,59.4 -62.5,58.2 -61.4,57 -61.8,56.3 -60.5,55.8 -59.6,55.2 -58,54.9 -57.3,54.6 -56.9,53.8 -56.2,53.6 -55.8,53.3 -55.7,52.1 -56.4,51.8 -57.1,51.4 -58.8,51.1 -60,50.2 -61.7,50.1 -63.9,50.3 -65.4,50.3 -66.4,50.2 -67.2,49.5 -68.5,49.1 -70,47.7 -71.1,46.8 -70.3,47 -68.7,48.3 -66.6,49.1 -65.1,49.2 -64.2,48.7 -65.1,48.1 -64.8,47 -64.5,46.2 -63.2,45.7 -61.5,45.9 -60.5,47 -60.4,46.3 -59.8,45.9 -61,45.3 -63.3,44.7 -64.2,44.3 -65.4,43.5 -66.1,43.6 -66.2,44.5 -64.4,45.3 -66,45.3 -67.1,45.1 -67.8,45.7 -67.8,47.1 -68.2,47.4 -68.9,47.2 -69.2,47.4 -70,46.7 -70.3,45.9 -70.7,45.5 -71.1,45.3 -71.4,45.3 -71.5,45 -73.3,45 -74.9,45 -75.3,44.8 -76.4,44.1 -76.5,44 -76.8,43.6 -77.7,43.6 -78.7,43.6 -79.2,43.5 -79,43.3 -78.9,43 -78.9,42.9 -80.2,42.4 -81.3,42.2 -82.4,41.7 -82.7,41.7 -83,41.8 -83.1,42 -83.1,42.1 -82.9,42.4 -82.4,43 -82.1,43.6 -82.3,44.4 -82.6,45.3 -83.6,45.8 -83.5,46 -83.6,46.1 -83.9,46.1 -84.1,46.3 -84.1,46.5 -84.3,46.4 -84.6,46.4 -84.5,46.5 -84.8,46.6 -84.9,46.9 -85.7,47.2 -86.5,47.6 -87.4,47.9 -88.4,48.3 -89.3,48 -89.6,48 -90.8,48.3 -91.6,48.1 -92.6,48.5 -93.6,48.6 -94.3,48.7 -94.6,48.8 -94.8,49.4 -95.2,49.4 -95.2,49 -97.2,49 -100.7,49 -104,49 -107.1,49 -110.1,49 -113,49 -116,49 -117,49 -120,49 -122.84,49",
    "-123.5,48.5 -124,48.4 -125.7,48.8 -126,49.2 -126.9,49.5 -127,49.8 -128.1,50 -128.4,50.5 -128.4,50.8 -127.3,50.6 -126.7,50.4 -125.8,50.3 -125.4,50 -124.9,49.5 -123.9,49.1 -123.5,48.5",
    "-132.7,54 -131.8,54.1 -132.1,53 -131.2,52.2 -131.6,52.2 -132.2,52.6 -132.6,53.1 -133.1,53.4 -132.7,54",
    "-114.2,73.1 -114.7,72.7 -112.4,73 -111.1,72.5 -109.9,73 -109,72.6 -108.2,71.7 -107.7,72.1 -108.4,73.1 -107.5,73.2 -106.5,73.1 -105.4,72.7 -104.8,71.7 -104.5,71 -102.8,70.5 -101,70 -101.1,69.6 -102.7,69.5 -102.1,69.1 -102.4,68.8 -104.2,68.9 -106,69.2 -107.1,69.1 -109,68.8 -111.5,68.6 -113.3,68.5 -113.9,69 -115.2,69.3 -116.1,69.2 -117.3,70 -116.7,70.1 -115.1,70.2 -113.7,70.2 -112.4,70.4 -114.4,70.6 -116.5,70.5 -117.9,70.5 -118.4,70.9 -116.1,71.3 -117.7,71.3 -119.4,71.6 -118.6,72.3 -117.9,72.7 -115.2,73.3 -114.2,73.1",
    "-85.8,73.8 -86.6,73.2 -85.8,72.5 -84.9,73.3 -82.3,73.8 -80.6,72.7 -80.8,72.1 -78.8,72.4 -77.8,72.8 -75.6,72.2 -74.2,71.8 -74.1,71.3 -72.2,71.6 -71.2,70.9 -68.8,70.5 -67.9,70.1 -67,69.2 -68.8,68.7 -66.5,68.1 -64.9,67.9 -63.4,66.9 -61.9,66.9 -62.2,66.2 -63.9,65 -65.2,65.4 -66.7,66.4 -68,66.3 -68.1,65.7 -67.1,65.1 -65.7,64.7 -65.3,64.4 -64.7,63.4 -65,62.7 -66.3,63 -68.8,63.8 -67.4,62.9 -66.3,62.3 -66.2,61.9 -68.9,62.3 -71,62.9 -72.2,63.4 -71.9,63.7 -73.4,64.2 -74.8,64.7 -74.8,64.4 -77.7,64.2 -78.6,64.6 -77.9,65.3 -76,65.3 -74,65.5 -74.3,65.8 -73.9,66.3 -72.7,67.3 -72.9,67.7 -73.3,68.1 -74.8,68.6 -76.9,68.9 -76.2,69.2 -77.3,69.8 -78.2,69.8 -79,70.2 -79.5,69.9 -81.3,69.7 -84.9,70 -87.1,70.3 -88.7,70.4 -89.5,70.8 -88.5,71.2 -89.9,71.2 -90.2,72.2 -89.4,73.1 -88.4,73.5 -85.8,73.8",
    "-63.7,82.9 -61.9,82.6 -61.9,81.9 -64.3,81.9 -66.8,81.7 -67.7,81.5 -65.5,81.5 -67.8,80.9 -69.5,80.6 -71.2,79.8 -73.2,79.6 -73.9,79.4 -76.9,79.3 -75.5,79.2 -76.2,79 -75.4,78.5 -76.3,78.2 -77.9,77.9 -78.4,77.5 -79.8,77.2 -79.6,77 -77.9,77 -77.9,76.8 -80.6,76.2 -83.2,76.5 -86.1,76.3 -87.6,76.4 -89.5,76.5 -89.6,77 -87.8,77.2 -88.3,77.9 -87.7,78 -85,77.5 -86.3,78.2 -88,78.4 -87.2,78.8 -85.4,79 -85.1,79.4 -86.5,79.7 -86.9,80.3 -84.2,80.2 -83.4,80.1 -81.9,80.5 -84.1,80.6 -87.6,80.5 -89.4,80.9 -90.2,81.3 -91.4,81.6 -91.6,81.9 -90.1,82.1 -88.9,82.1 -87,82.3 -85.5,82.7 -84.3,82.6 -83.2,82.3 -82.4,82.9 -81.1,83 -79.3,83.1 -76.3,83.2 -75.7,83.1 -72.8,83.2 -70.7,83.2 -68.5,83.1 -65.8,83 -63.7,82.9",
    "-92.4,74.8 -92.8,75.4 -92.9,75.9 -93.9,76.3 -96,76.4 -97.1,76.8 -96.8,77.2 -94.7,77.1 -93.6,76.8 -91.6,76.8 -90.7,76.5 -91,76.1 -89.8,75.9 -89.2,75.6 -87.8,75.6 -86.4,75.5 -84.8,75.7 -82.8,75.8 -81.1,75.7 -80.1,75.3 -79.8,74.9 -80.5,74.7 -82,74.4 -83.2,74.6 -86.1,74.4 -88.2,74.4 -89.8,74.5 -92.4,74.8",
    "-120.5,71.4 -123.1,70.9 -123.6,71.3 -125.9,71.9 -125.5,72.3 -124.8,73 -123.9,73.7 -124.9,74.3 -121.5,74.5 -120.1,74.2 -117.6,74.2 -116.6,73.9 -115.5,73.5 -116.8,73.2 -119.2,72.5 -120.5,71.8 -120.5,71.4",
    "-109.6,76.8 -108.6,76.7 -108.2,76.2 -107.8,75.9 -106.9,76 -105.9,76 -105.7,75.5 -106.3,75 -109.7,74.9 -112.2,74.4 -113.7,74.4 -113.9,74.7 -111.8,75.2 -116.3,75 -117.7,75.2 -116.4,76.2 -115.4,76.5 -112.6,76.1 -110.8,75.6 -109.1,75.5 -110.5,76.4 -109.6,76.8",
    "-94.5,74.1 -92.4,74.1 -90.5,73.9 -92,73 -93.2,72.8 -94.3,72 -95.4,72.1 -96,72.9 -96,73.4 -95.5,73.9 -94.5,74.1",
    "-100.4,72.7 -101.5,73.4 -100.4,73.8 -99.2,73.6 -97.4,73.8 -97.1,73.5 -98.1,73 -96.5,72.6 -96.7,71.7 -98.4,71.3 -99.3,71.4 -100,71.7 -102.5,72.5 -102.5,72.8 -100.4,72.7",
    "-87,79.7 -85.8,79.3 -87.2,79 -89,78.3 -90.8,78.2 -92.9,78.3 -94,78.8 -93.9,79.1 -93.2,79.4 -95,79.4 -96.1,79.7 -96.7,80.2 -96,80.6 -95.3,80.9 -94.3,81 -94.7,81.2 -92.4,81.3 -91.1,80.7 -89.5,80.5 -87.8,80.3 -87,79.7",
    "-85.2,65.7 -85,65.2 -84.5,65.4 -83.9,65.1 -82.8,64.8 -81.6,64.5 -81.6,64 -80.8,64.1 -80.1,63.7 -81,63.4 -82.6,63.7 -83.1,64.1 -84.1,63.6 -85.5,63.1 -85.9,63.6 -87.2,63.5 -86.4,64 -86.2,64.8 -85.9,65.7 -85.2,65.7",
    "-105.5,79.3 -103.5,79.2 -100.8,78.8 -100.1,78.3 -99.7,77.9 -101.3,78 -103,78.3 -105.2,78.4 -104.2,78.7 -105.4,78.9 -105.5,79.3",
    "-116.2,77.7 -116.3,76.9 -117.1,76.5 -118,76.5 -119.9,76.1 -121.5,75.9 -122.9,76.1 -121.2,76.9 -119.1,77.5 -117.6,77.5 -116.2,77.7",
    "-98.5,76.7 -97.7,76.3 -97.7,75.7 -98.2,75 -99.8,74.9 -100.9,75.1 -100.9,75.6 -102.5,75.6 -102.6,76.3 -101.5,76.3 -100,76.7 -98.6,76.6 -98.5,76.7",
    "-95.7,69.1 -96.3,68.8 -97.6,69.1 -98.4,69 -99.8,69.4 -98.9,69.7 -98.2,70.1 -97.2,69.9 -95.7,69.1",
    "-55.9,51.6 -55.4,51.6 -56.8,49.8 -56.1,50.2 -55.5,49.9 -55.8,49.6 -54.9,49.3 -54.5,49.6 -53.5,49.3 -53.8,48.5 -53.1,48.7 -53,48.2 -52.7,47.5 -53.1,46.7 -53.5,46.6 -54.2,46.8 -54,47.6 -54.2,47.8 -55.4,46.9 -55.9,46.9 -55.3,47.4 -56.3,47.6 -57.3,47.6 -59.3,47.6 -59.4,47.9 -58.8,48.3 -59.2,48.5 -58.4,49.1 -57.4,50.7 -56.7,51.3 -55.9,51.6",
    "-61.8,49.1 -62.3,49.1 -63.6,49.4 -64.5,49.9 -64.2,49.9 -62.9,49.7 -61.8,49.3 -61.8,49.1",
    "-64,46.6 -62.9,46.4 -62,46.4 -62.5,46 -62.9,46 -64.1,46.4 -64.4,46.7 -64,47 -64,46.6",
  ],
  "United States": [
    "-94.8,49.4 -94.6,48.8 -94.3,48.7 -93.6,48.6 -92.6,48.5 -91.6,48.1 -90.8,48.3 -89.6,48 -89.3,48 -88.4,48.3 -87.4,47.9 -86.5,47.6 -85.7,47.2 -84.9,46.9 -84.8,46.6 -84.5,46.5 -84.6,46.4 -84.3,46.4 -84.1,46.5 -84.1,46.3 -83.9,46.1 -83.6,46.1 -83.5,46 -83.6,45.8 -82.6,45.3 -82.3,44.4 -82.1,43.6 -82.4,43 -82.9,42.4 -83.1,42.1 -83.1,42 -83,41.8 -82.7,41.7 -82.4,41.7 -81.3,42.2 -80.2,42.4 -78.9,42.9 -78.9,43 -79,43.3 -79.2,43.5 -78.7,43.6 -77.7,43.6 -76.8,43.6 -76.5,44 -76.4,44.1 -75.3,44.8 -74.9,45 -73.3,45 -71.5,45 -71.4,45.3 -71.1,45.3 -70.7,45.5 -70.3,45.9 -70,46.7 -69.2,47.4 -68.9,47.2 -68.2,47.4 -67.8,47.1 -67.8,45.7 -67.1,45.1 -67,44.8 -68,44.3 -69.1,44 -70.1,43.7 -70.6,43.1 -70.8,42.9 -70.8,42.3 -70.5,41.8 -70.1,41.8 -70.2,42.1 -69.9,41.9 -70,41.6 -70.6,41.5 -71.1,41.5 -71.9,41.3 -72.3,41.3 -72.9,41.2 -73.7,40.9 -72.2,41.1 -71.9,40.9 -73.3,40.6 -74,40.6 -74.3,40.5 -74,40.4 -74.2,39.7 -74.9,38.9 -75,39.2 -75.2,39.2 -75.5,39.5 -75.3,39 -75.1,38.8 -75.1,38.4 -75.4,38 -75.9,37.2 -76,37.3 -75.7,37.9 -76.2,38.3 -76.4,39.2 -76.5,38.7 -76.3,38.1 -77,38.2 -76.3,37.9 -76.3,37 -76,36.9 -75.9,36.6 -75.7,35.6 -76.4,34.8 -77.4,34.5 -78.1,33.9 -78.6,33.9 -79.1,33.5 -79.2,33.2 -80.3,32.5 -80.9,32 -81.3,31.4 -81.5,30.7 -81.3,30 -81,29.2 -80.5,28.5 -80.5,28 -80.1,26.9 -80.1,26.2 -80.1,25.8 -80.4,25.2 -80.7,25.1 -81.2,25.2 -81.3,25.6 -81.7,25.9 -82.2,26.7 -82.7,27.5 -82.9,27.9 -82.7,28.6 -82.9,29.1 -83.7,29.9 -84.1,30.1 -85.1,29.6 -85.3,29.7 -85.8,30.2 -86.4,30.4 -87.5,30.3 -88.4,30.4 -89.2,30.3 -89.6,30.2 -89.4,29.9 -89.4,29.5 -89.2,29.3 -89.4,29.2 -89.8,29.3 -90.2,29.1 -90.9,29.1 -91.6,29.7 -92.5,29.6 -93.2,29.8 -93.8,29.7 -94.7,29.5 -95.6,28.7 -96.6,28.3 -97.1,27.8 -97.4,27.4 -97.4,26.7 -97.3,26.2 -97.1,25.9 -97.5,25.8 -98.2,26.1 -99,26.4 -99.3,26.8 -99.5,27.5 -100.1,28.1 -100.5,28.7 -101,29.4 -101.7,29.8 -102.5,29.8 -103.1,29 -103.9,29.3 -104.5,29.6 -104.7,30.1 -105,30.6 -105.6,31.1 -106.1,31.4 -106.5,31.8 -108.2,31.8 -108.2,31.3 -109,31.3 -111,31.3 -113.3,32 -114.8,32.5 -114.7,32.7 -116,32.6 -117.1,32.5 -117.3,33 -117.9,33.6 -118.4,33.7 -118.5,34 -119.1,34.1 -119.4,34.3 -120.4,34.4 -120.6,34.6 -120.7,35.2 -121.7,36.2 -122.5,37.6 -122.5,37.8 -123,38.1 -123.7,39 -123.9,39.8 -124.4,40.3 -124.2,41.1 -124.2,42 -124.5,42.8 -124.1,43.7 -124,44.6 -123.9,45.5 -124.1,46.9 -124.4,47.7 -124.7,48.2 -124.6,48.4 -123.1,48 -122.6,47.1 -122.3,47.4 -122.5,48.2 -122.84,49 -120,49 -117,49 -116,49 -113,49 -110.1,49 -107.1,49 -104,49 -100.7,49 -97.2,49 -95.2,49 -95.2,49.4 -94.8,49.4",
    "-155.1,71.1 -154.3,70.7 -153.9,70.9 -152.2,70.8 -152.3,70.6 -150.7,70.4 -149.7,70.5 -147.6,70.2 -145.7,70.1 -144.9,70 -143.6,70.2 -142.1,69.9 -141,69.7 -141,66 -141,60.3 -140,60.3 -139,60 -138.3,59.6 -137.5,58.9 -136.5,59.5 -135.5,59.8 -134.9,59.3 -134.3,58.9 -133.4,58.4 -132.7,57.7 -131.7,56.6 -130,55.9 -130,55.3 -130.5,54.8 -131.1,55.2 -132,55.5 -132.3,56.4 -133.5,57.2 -134.1,58.1 -135,58.2 -136.6,58.2 -137.8,58.5 -139.9,59.5 -140.8,59.7 -142.6,60.1 -144,60 -145.9,60.5 -147.1,60.9 -148.2,60.7 -148,60 -148.6,59.9 -149.7,59.7 -150.6,59.4 -151.7,59.2 -151.9,59.7 -151.4,60.7 -150.3,61 -150.6,61.3 -151.9,60.7 -152.6,60.1 -154,59.4 -153.3,58.9 -154.2,58.1 -155.3,57.7 -156.3,57.4 -156.6,57 -158.1,56.5 -158.4,56 -159.6,55.6 -160.3,55.6 -161.2,55.4 -162.2,55 -163.1,54.7 -164.8,54.4 -164.9,54.6 -163.8,55 -162.9,55.3 -161.8,55.9 -160.6,56 -160.1,56.4 -158.7,57 -158.5,57.2 -157.7,57.6 -157.6,58.3 -157,58.9 -158.2,58.6 -158.5,58.8 -159.1,58.4 -159.7,58.9 -160,58.6 -160.4,59.1 -161.4,58.7 -162,58.7 -162.1,59.3 -161.9,59.6 -162.5,60 -163.8,59.8 -164.7,60.3 -165.3,60.5 -165.4,61.1 -166.1,61.5 -165.7,62.1 -164.9,62.6 -164.6,63.1 -163.8,63.2 -163.1,63.1 -162.3,63.5 -161.5,63.5 -160.8,63.8 -161,64.2 -161.5,64.4 -160.8,64.8 -161.4,64.8 -162.5,64.6 -162.8,64.3 -163.5,64.6 -165,64.4 -166.4,64.7 -166.8,65.1 -168.1,65.7 -166.7,66.1 -164.5,66.6 -163.7,66.6 -163.8,66.1 -161.7,66.1 -162.5,66.7 -163.7,67.1 -164.4,67.6 -165.4,68 -166.8,68.4 -166.2,68.9 -164.4,68.9 -163.2,69.4 -162.9,69.9 -161.9,70.3 -160.9,70.4 -159,70.9 -158.1,70.8 -156.6,71.4 -155.1,71.1",
    "-153.2,57.9 -152.6,57.9 -152.1,57.6 -153,57.1 -154,56.7 -154.5,57.4 -153.8,57.5 -153.2,57.9",
    "-171.7,63.8 -170.5,63.7 -169,63.3 -168.7,63.3 -169.5,62.9 -170.9,63.4 -171.7,63.4 -171.7,63.8",
    "-133.2,55.9 -134.1,57.2 -135.1,58 -136.5,57.9 -135.7,57 -134.5,56.1 -133.2,55.9",
  ],
  Mexico: ["-117.1,32.5 -116,32.6 -114.7,32.7 -114.8,32.5 -113.3,32 -111,31.3 -109,31.3 -108.2,31.3 -108.2,31.8 -106.5,31.8 -106.1,31.4 -105.6,31.1 -105,30.6 -104.7,30.1 -104.5,29.6 -103.9,29.3 -103.1,29 -102.5,29.8 -101.7,29.8 -101,29.4 -100.5,28.7 -100.1,28.1 -99.5,27.5 -99.3,26.8 -99,26.4 -98.2,26.1 -97.5,25.8 -97.1,25.9 -97.5,25 -97.7,24.3 -97.8,22.9 -97.9,22.5 -97.7,21.9 -97.4,21.4 -97.2,20.6 -96.5,19.9 -96.3,19.3 -95.9,18.8 -94.8,18.6 -94.4,18.1 -93.5,18.4 -92.8,18.5 -92,18.7 -91.4,18.9 -90.8,19.3 -90.5,19.9 -90.5,20.7 -90.3,21 -89.6,21.3 -88.5,21.5 -87.7,21.5 -87.1,21.5 -86.8,21.3 -86.8,20.8 -87.4,20 -87.6,19.6 -87.8,18.3 -88.1,18.5 -88.3,18.5 -88.5,18 -88.9,17.9 -89.1,18 -91,17.8 -91,17.3 -91.5,17.3 -90.6,16.5 -91.7,16.1 -92.2,15.3 -92.1,15.1 -92.2,14.5 -93.4,15.6 -93.9,16 -94.7,16.2 -95.3,16.1 -96.1,15.8 -97.3,15.9 -98,16.1 -98.9,16.6 -99.7,16.7 -100.8,17.2 -101.7,17.6 -102.5,18 -103.5,18.3 -103.9,18.7 -105,19.3 -105.5,19.9 -105.7,20.4 -105.3,21.1 -105.3,21.4 -105.6,22.3 -106,22.8 -106.9,23.8 -107.9,24.5 -108.4,25.2 -109.3,25.6 -109.4,26 -109.8,26.7 -110.4,27.2 -110.6,27.9 -111.2,27.9 -112.2,29 -112.8,30 -113.2,31.2 -113.9,31.6 -114.8,31.8 -114.9,31.4 -114.8,30.9 -114.7,30.2 -114.3,29.8 -113.6,29.1 -113.2,28.4 -113,28 -112.8,27.8 -112.5,27.5 -112.3,26.7 -111.6,26.7 -111.3,25.7 -110.7,24.8 -110.7,24.3 -110.2,24.3 -109.8,23.8 -109.4,23.4 -109.4,23.2 -109.9,22.8 -110.3,23.4 -110.9,24 -111.7,24.5 -112.2,25 -112.1,25.5 -112.3,26 -113,26.7 -114.5,27.1 -115.1,27.7 -114.6,27.7 -114.2,28.1 -114.2,28.6 -115.5,29.6 -115.9,30.2 -116.3,31 -117.1,32.5"],
  Brazil: ["-57.6,-30.2 -56.3,-28.9 -55.2,-27.9 -54.5,-27.5 -53.6,-27 -53.6,-26.1 -54.1,-25.5 -54.6,-25.7 -54.4,-25.2 -54.3,-24.6 -54.3,-24 -54.7,-23.8 -55,-24 -55.4,-24 -55.5,-23.6 -55.6,-22.7 -55.8,-22.4 -56.5,-22.1 -56.9,-22.3 -57.9,-22.1 -57.9,-20.7 -58.2,-20.2 -57.9,-18.9 -57.5,-18.2 -57.7,-17.6 -58.3,-17.3 -58.4,-16.9 -58.2,-16.3 -60.2,-16.3 -60.5,-15.1 -60.3,-15.1 -60.3,-14.6 -60.5,-14.4 -61.1,-13.5 -61.7,-13.5 -62.1,-13 -62.8,-13 -63.2,-12.6 -64.3,-12.5 -65.4,-11.6 -65.3,-10.9 -65.4,-9.8 -66.6,-9.9 -67.2,-10.3 -68,-10.7 -68.3,-11 -68.8,-11 -69.5,-11 -70.1,-11.1 -70.5,-11 -70.5,-9.5 -71.3,-10.1 -72.2,-10.1 -72.6,-9.5 -73.2,-9.5 -73,-9 -73.6,-8.4 -74,-7.5 -73.7,-7.3 -73.7,-6.9 -73.1,-6.6 -73.2,-6.1 -72.9,-5.3 -71.7,-4.6 -70.9,-4.4 -70.8,-4.3 -69.9,-4.3 -69.4,-1.6 -69.6,-0.5 -70,-0.2 -70,0.5 -69.5,0.7 -69.3,0.6 -69.1,0.7 -69.2,1 -69.8,1.1 -69.8,1.7 -67.9,1.7 -67.5,2 -67.3,1.7 -67.1,1.1 -66.9,1.3 -66.3,0.7 -65.5,0.8 -65.4,1.1 -64.6,1.3 -64.2,1.5 -64.1,1.9 -63.4,2.2 -63.4,2.4 -64.3,2.5 -64.4,3.8 -64.8,4.1 -64.6,4.1 -64,3.9 -63.9,4 -63.1,3.8 -62.8,4 -62.1,4.2 -61,4.5 -60.6,4.9 -60.7,5.2 -60.2,5.2 -60,5 -60.1,4.6 -59.8,4.4 -59.5,4 -59.8,3.6 -60,2.8 -59.7,2.2 -59.6,1.8 -59,1.3 -58.5,1.3 -58.4,1.5 -58.1,1.5 -57.7,1.7 -57.3,2 -56.8,1.9 -56.5,1.9 -55.9,2 -56,2.5 -55.6,2.4 -55.1,2.5 -54.5,2.3 -54.1,2.1 -53.8,2.4 -53.6,2.3 -52.9,2.1 -52.6,2.5 -52,3.2 -51.7,4.2 -51.3,4.2 -51.1,3.9 -50.5,1.9 -50,1.7 -50,1 -50.7,0.2 -50.4,-0.1 -48.6,-0.2 -48.6,-1.2 -47.8,-0.6 -46.6,-1 -44.9,-1.6 -44.4,-2.1 -44.6,-2.7 -43.4,-2.4 -41.5,-2.9 -40,-2.9 -38.5,-3.7 -37.2,-4.8 -36.5,-5.1 -35.6,-5.1 -35.2,-5.5 -34.9,-6.7 -34.7,-7.3 -35.1,-9 -35.6,-9.6 -37,-11 -37.7,-12.2 -38.4,-13 -38.7,-13.1 -39,-13.8 -38.9,-15.7 -39.2,-17.2 -39.3,-17.9 -39.6,-18.3 -39.8,-19.6 -40.8,-20.9 -40.9,-21.9 -41.8,-22.4 -42,-23 -43.1,-23 -44.6,-23.4 -45.4,-23.8 -46.5,-24.1 -47.6,-24.9 -48.5,-25.9 -48.6,-26.6 -48.5,-27.2 -48.7,-28.2 -49.6,-29.2 -50.7,-31 -51.6,-31.8 -52.3,-32.2 -52.7,-33.2 -53.4,-33.8 -53.6,-33.2 -53.2,-32.7 -53.8,-32 -54.6,-31.5 -55.6,-30.9 -56,-30.9 -57,-30.1 -57.6,-30.2"],
  China: [
    "110.3,18.7 109.5,18.2 108.7,18.5 108.6,19.4 109.1,19.8 110.2,20.1 110.8,20.1 111,19.7 110.6,19.3 110.3,18.7",
    "127.7,49.8 129.4,49.4 130.6,48.7 131,47.8 132.5,47.8 133.4,48.2 135,48.5 134.5,47.6 134.1,47.2 133.8,46.1 133.1,45.1 131.9,45.3 131,45 131.3,44.1 131.1,43 130.6,42.9 130.6,42.4 130,43 129.6,42.4 128.1,42 128.2,41.5 127.3,41.5 126.9,41.8 126.2,41.1 125.1,40.6 124.3,39.9 122.9,39.6 122.1,39.2 121.1,38.9 121.6,39.4 121.4,39.8 122.2,40.4 121.6,40.9 120.8,40.6 119.6,39.9 119,39.3 118,39.2 117.5,38.7 118.1,38.1 118.9,37.9 118.9,37.4 119.7,37.2 120.8,37.9 121.7,37.5 122.4,37.5 122.5,36.9 121.1,36.7 120.6,36.1 119.7,35.6 119.2,34.9 120.2,34.4 120.6,33.4 121.2,32.5 121.9,31.7 121.9,30.9 121.3,30.7 121.5,30.1 122.1,29.8 121.9,29 121.7,28.2 121.1,28.1 120.4,27.1 119.6,25.7 119,25 118,24.5 117.3,23.6 116.2,22.9 114.8,22.7 114.2,22.2 113.8,22.5 113.2,22.1 111.8,21.6 110.8,21.4 110.4,20.3 109.9,20.3 109.6,21 109.9,21.4 108.5,21.7 108,21.6 106.7,22 106.6,22.2 106.7,22.8 105.8,23 105.3,23.4 104.5,22.8 103.5,22.7 102.7,22.7 102.2,22.5 101.7,22.3 101.8,21.2 101.3,21.2 101.2,21.4 100.3,21.5 100.1,21.4 99.2,22.1 99.5,22.9 98.9,23.1 98.7,24.1 97.6,24 97.7,25.1 98.7,25.9 98.7,27.5 98.2,27.7 97.9,28.3 97.3,28.3 96.2,28.4 95.4,29 94.6,29.3 93.4,28.6 92.5,27.9 92,28 91.5,28 90.7,28.1 90,28.3 89.5,28 88.8,27.3 88.7,28.1 88.1,27.9 86,28 85.3,28.3 84.2,28.8 83.9,29.3 82.3,30.1 81.5,30.4 81.1,30.2 79.7,30.9 78.7,31.5 78.5,32.6 79.2,32.5 79.2,33 78.8,33.5 79,34.3 78.3,34.6 78.9,35.5 77.8,35.5 76.9,35.4 76.2,35.9 75.4,36.7 75.2,37.1 75,37.4 74.8,38 74.9,38.4 74.3,38.6 73.9,38.5 73.7,39.4 74,39.7 73.8,39.9 74.8,40.4 75.5,40.6 76.5,40.4 77,41.1 78.2,41.2 79,41.4 79.2,41.9 80.1,42.1 80.3,42.3 80.1,42.9 80.9,43.2 80,44.9 81.9,45.3 82.5,45.5 83.2,47.3 85.2,47 85.7,47.5 85.7,48.5 86.6,48.5 87.4,49.2 87.8,49.3 88,48.6 88.9,48.1 90.3,47.7 91,46.9 90.6,46 91,45 92.1,45.1 93.5,45 95.3,44.2 95.8,43.3 96.3,42.7 97.5,42.7 99.5,42.5 101.8,42.5 103.3,41.9 104.5,41.9 105,41.6 106.1,42.1 107.7,42.5 109.2,42.5 110.4,42.9 111.1,43.4 111.8,43.7 111.7,44.1 111.3,44.5 111.9,45.1 113.4,44.8 114.5,45.3 116,45.7 116.7,46.3 117.4,46.7 118.9,46.8 119.8,46.7 119.9,46.9 118.9,47.7 117.3,47.7 115.7,47.7 115.5,48.1 116.2,49.1 117.9,49.5 119.3,50.1 119.3,50.6 120.2,51.6 120.7,52 120.7,52.5 120.2,52.8 121,53.3 122.2,53.4 123.6,53.5 125.1,53.2 125.9,52.8 126.6,51.8 126.9,51.4 127.3,50.7 127.7,49.8",
  ],
  India: ["77.8,35.5 78.9,34.3 78.8,33.5 79.2,33 79.2,32.5 78.5,32.6 78.7,31.5 79.7,30.9 81.1,30.2 80.5,29.7 80.1,28.8 81.1,28.4 82,27.9 83.3,27.4 84.7,27.2 85.3,26.7 86,26.6 87.2,26.4 88.1,26.4 88.2,26.8 88,27.4 88.8,27.3 88.8,26.7 89.7,26.7 90.4,26.9 92,26.8 92,27.5 91.7,27.8 92.5,27.9 93.4,28.6 94.6,29.3 95.4,29 96.1,29.5 96.6,28.8 96.2,28.4 97.3,28.3 97.4,27.9 97,27.7 97.1,27.1 96.4,27.3 95.1,26.6 95.2,26 94.6,25.2 94.6,24.7 94.1,23.9 93.3,24.1 93.3,23 93.1,22.7 93.2,22.3 92.7,22 92.1,23.6 91.9,23.6 91.7,23 91.2,23.5 91.5,24.1 92.4,24.9 91.8,25.1 90.9,25.1 89.9,25.3 89.8,26 89.4,26 88.6,26.4 88.2,25.8 88.9,25.2 88.3,24.9 88.1,24.5 88.7,24.2 88.5,23.6 89,23.1 88.9,22.9 89,22 88.9,21.7 88.2,21.7 87,21.5 87,20.7 86.5,20.2 85.1,19.5 84,18.3 82.2,17 82.2,16.6 81.7,16.3 80.8,16 80.3,15.9 80,15.1 80.2,13.8 80.3,13 79.9,12.1 79.9,10.4 79.3,10.3 78.9,9.5 79.2,9.2 78.3,8.9 77.9,8.3 77.5,8 76.6,8.9 76.1,10.3 75.7,11.3 75.4,11.8 74.9,12.7 74.6,14 74.4,14.6 73.5,16 73.1,17.9 72.8,19.2 72.8,20.4 72.6,21.4 71.2,20.8 70.5,20.9 69.2,22.1 69.6,22.5 69.3,22.8 68.2,23.7 68.8,24.4 71,24.4 70.8,25.2 70.3,25.7 70.2,26.5 69.5,26.9 70.6,28 71.8,27.9 72.8,29 73.5,30 74.4,31 74.4,31.7 75.3,32.3 74.5,33 74,33.4 74.2,34.7 75.8,34.5 76.9,34.7 77.8,35.5"],
  Australia: [
    "143.6,-38.8 145,-38 146.3,-39 147.4,-38.2 149.4,-37.8 150,-37.4 150.1,-36.4 150.8,-35.7 151.6,-34 152.5,-32.6 153.1,-31 153.6,-28.6 153.1,-26.1 153.2,-25.1 152.9,-25.3 151.6,-24.1 150.9,-23.5 150.5,-22.6 149.7,-22.3 148.8,-20.4 147.5,-19.5 146.4,-18.9 146,-17.8 145.6,-14.9 144.9,-14.6 144,-14.5 143.6,-13.4 143.2,-12.3 142.5,-10.7 142.1,-11.3 141.7,-13.7 141.5,-16.4 140.9,-17.4 139.9,-17.4 139.3,-17.4 137.5,-16 136,-15.4 135.5,-14.7 136,-13.3 136.9,-12.4 136.5,-11.9 135.3,-12.2 133.5,-11.8 132.4,-11.1 131.2,-12.2 130.6,-12.5 130.6,-13.5 129.6,-14.9 128.4,-14.9 127.1,-13.8 126.2,-14.2 125.7,-14.5 124.8,-15.3 124.4,-16.3 123.6,-17.3 122.3,-17.3 122.2,-18.2 121.3,-19 120,-20 119.3,-20 117.4,-20.7 116.7,-20.7 115.5,-21.5 114.9,-21.7 114.2,-22.5 113.6,-24.7 113.4,-24.4 114.2,-26.3 115.5,-30 115.7,-31.6 115.8,-32.2 115.8,-33.6 115,-34.2 116,-34.9 118,-35.1 119.9,-34 123.7,-33.9 124.3,-33 126.1,-32.2 129.5,-31.6 131.3,-31.5 132.3,-32 134.3,-32.6 134.6,-33.2 135.2,-34.5 135.9,-34.9 137.5,-33.6 138,-33 137.8,-32.9 137.8,-35.1 136.8,-35.3 138.1,-35.6 138.4,-35.1 139.6,-36.1 139.9,-37 140.6,-38 142.2,-38.4 143,-38.7 143.6,-38.8",
    "147.7,-40.8 148.3,-41 148.4,-42.1 148,-43.2 147,-43.6 146.1,-43.5 145.4,-42.7 145.3,-42 144.7,-41.2 144.7,-40.7 146.4,-41.1 147.7,-40.8",
  ],
  "South Africa": ["16.3,-28.6 16.8,-28.1 17.2,-28.4 17.4,-28.8 18.5,-29 20,-28.4 20,-24.8 20.8,-25.9 20.7,-26.5 21.6,-26.7 22.1,-26.3 22.6,-26 22.8,-25.5 23.3,-25.3 24.2,-25.7 25.4,-25.7 25.9,-24.7 26.5,-24.6 26.8,-24.2 27.1,-23.6 28,-22.8 29.4,-22.1 30.3,-22.3 31.2,-22.3 31.7,-23.7 32,-24.5 31.9,-25.8 31.3,-25.7 31,-25.7 30.7,-26.4 31,-27 31.9,-27.2 32.1,-26.7 32.8,-26.7 32.6,-27.5 32.5,-28.3 32.2,-28.8 31.3,-29.4 30.9,-29.9 30.6,-30.4 30.1,-31.1 28.9,-32.2 28.2,-32.8 27.5,-33.2 26.4,-33.6 25.9,-33.7 25.8,-34 25.2,-34 24.7,-34 23.6,-33.8 23,-33.9 22.6,-33.9 21.5,-34.3 20.7,-34.4 20.1,-34.8 19.6,-34.8 19.2,-34.5 18.9,-34.4 18.4,-34 18.2,-33.9 18.2,-33.3 18.2,-32.4 18.3,-31.7 17.6,-30.7 17.1,-29.9 16.3,-28.6"],
  Lesotho: ["29,-29 29.3,-29.3 29,-30 28.3,-30.2 27.7,-30.6 27,-29.9 27.5,-29.2 28,-28.9 28.5,-28.6 29,-29"],
  Turkey: [
    "36.9,41.3 38.3,41 39.5,41.1 40.4,41 41.6,41.5 42.6,41.6 43.6,41.1 43.6,40.3 44.4,40 44.8,39.7 44.1,39.4 44.4,38.3 44.2,38 44.8,37.2 44.3,37 43.9,37.3 42.8,37.4 42.3,37.2 41.2,37.1 40.7,37.1 39.5,36.7 38.7,36.7 38.2,36.9 37.1,36.6 36.7,36.3 36.7,36 36.1,35.8 36.2,36.7 35.6,36.6 34.7,36.8 34,36.2 32.5,36.1 31.7,36.6 30.6,36.7 30.4,36.3 29.7,36.1 28.7,36.7 27.6,36.7 27,37.7 26.3,38.2 26.8,39 26.2,39.5 27.3,40.4 28.8,40.5 29.2,41.2 31.1,41.1 32.3,41.7 33.5,42 35.2,42 36.9,41.3",
    "28,42 28.1,41.6 29,41.3 28.8,41.1 27.6,41 27.2,40.7 26.4,40.2 26,40.8 26.3,41.2 26.1,41.8 26.6,41.6 27.1,42.1 28,42",
  ],
  Greece: [
    "20.2,39.3 20.7,40.4 21,40.8 22,41.2 22.6,41.1 24,41.6 26.1,41.8 26.3,41.2 26.1,40.8 25.4,41 24.9,40.9 23.7,40.7 24.4,40.1 23.9,40 23.3,40 22.9,40.4 22.6,40.3 22.8,39.7 23.4,39.2 23,39 23.5,38.5 24,38.2 24,37.7 23.1,37.9 23.4,37.4 22.8,37.3 23.2,36.4 22.5,36.4 21.7,36.8 21.3,37.6 21.1,38.3 20.7,38.8 20.2,39.3",
    "23.7,35.7 24.2,35.4 25,35.4 25.8,35.4 25.7,35 24.7,34.9 24.7,35.1 23.5,35.3 23.7,35.7",
  ],
  Romania: ["22.7,47.9 23.1,48.1 24.4,48 25.2,47.9 25.9,48 27.2,47.8 28.1,46.8 28.2,46 28.1,45.6 29.1,45.5 29.6,45.3 29.6,45 29.1,44.8 28.8,44.9 28.6,43.7 27.2,44.2 26.1,43.9 25.6,43.7 24.1,43.7 23.3,43.9 22.9,43.8 22.7,44.2 22.5,44.4 22.7,44.6 22.1,44.5 21.6,44.8 21.5,45.2 20.9,45.4 20.2,46.1 21,46.3 21.6,47 22.1,47.7 22.7,47.9"],
  Norway: [
    "28.2,71.2 31.3,70.5 30,69.9 29,69.8 28,70 26.2,69.8 25.7,68.7 23,68.9 21.2,69.4 20.6,69.1 18,68.6 16.8,68 16.1,67.3 14.8,66 14,64.5 12.2,63.5 12,61.8 12.6,61.3 12.3,60.1 11.5,59.4 11,59 10.6,59.4 8.4,58.3 7,58.1 5.7,58.6 5.3,59.7 5,62 5.9,62.6 8.6,63.5 10.5,64.5 12.4,65.9 14.8,67.8 16.4,68.6 19.2,69.8 21.4,70.3 23,70.2 24.5,71 26.4,71 28.2,71.2",
    "15.1,79.7 15.5,80 17,80.1 18.3,80 21.5,79 19,78.6 18.5,77.8 17.6,77.6 17.1,76.8 15.9,76.8 13.8,77.4 14.7,77.7 13.2,78 11.2,79 10.4,79.7 13.2,80 13.7,79.7 15.1,79.7",
    "27.4,80.1 25.4,80.4 22.9,80.7 20.5,79.8 24,79.5 27.4,80.1",
  ],
  Finland: ["28.6,69.1 28.4,68.4 30,67.7 29.1,66.9 30.2,65.8 29.5,64.9 30.4,64.2 31.5,62.9 30,61.7 29,61.2 28.1,60.5 26.3,60.4 24.5,60.1 22.9,59.8 22.3,60.4 21.3,60.7 21.5,61.7 21.1,62.6 22.4,63.8 24.7,64.9 25.4,65.1 25.3,65.5 23.9,66 23.6,67 23.5,67.9 22,68.6 20.6,69.1 21.2,69.4 23,68.9 25.7,68.7 26.2,69.8 28,70 29.1,69.7 28.6,69.1"],
  "United Kingdom": [
    "-3,58.6 -4.1,57.6 -3.1,57.7 -2,57.7 -2.2,56.9 -3.1,56 -2.1,55.9 -1.1,54.6 -0.4,54.5 0.5,53.3 0,53.4 1.7,52.7 1.6,52.1 1.1,51.8 1.4,51.3 0.6,50.8 -0.8,50.8 -2.5,50.5 -3,50.7 -3.6,50.2 -4.5,50.3 -5.2,50 -5.8,50.2 -4.3,51.2 -3.4,51.4 -5,51.6 -4.2,52.3 -4.8,52.8 -4.6,53.5 -3.1,53.4 -2.9,54 -3.6,54.6 -4.8,54.8 -5,55.1 -4.7,55.5 -5.1,55.8 -5.6,55.3 -5.6,56.3 -6.1,56.8 -5,58.6 -4.1,58.6 -3,58.6",
    "-6.2,53.9 -7.6,54.1 -7.4,55 -6.7,55.2 -5.7,54.6 -6.2,53.9",
  ],
  Ireland: ["-6.2,53.9 -6,53.2 -6.8,52.3 -8.6,51.7 -10,51.8 -9.2,52.9 -9.7,53.9 -10,54 -8.1,54.5 -8.5,54.9 -7.3,55.1 -7.4,55 -7.6,54.1 -6.2,53.9"],
  Spain: ["-9,41.9 -9,42.6 -9.4,43 -8,43.8 -6.8,43.6 -5.4,43.6 -4.3,43.4 -3.5,43.5 -1.9,43.4 -1.5,43 0.3,42.6 0.7,42.8 1.8,42.3 3,42.5 3,41.9 2.1,41.2 0.8,41 0.7,40.7 0.1,40.1 -0.3,39.3 0.1,38.7 -0.5,38.3 -0.7,37.6 -1.4,37.4 -2.1,36.7 -3.4,36.7 -4.4,36.7 -5,36.3 -5.4,36 -5.9,36 -6.2,36.4 -6.5,36.9 -7.4,37.1 -7.5,37.4 -7.2,37.8 -7,38.1 -7.4,38.4 -7.1,39 -7.5,39.6 -7.1,39.7 -7,40.2 -6.9,40.3 -7,41 -6.4,41.4 -6.7,41.9 -7.3,41.9 -7.4,41.8 -8,41.8 -8.3,42.3 -8.7,42.1 -9,41.9"],
  Portugal: ["-9,41.9 -8.7,42.1 -8.3,42.3 -8,41.8 -7.4,41.8 -7.3,41.9 -6.7,41.9 -6.4,41.4 -6.9,41.1 -6.9,40.3 -7,40.2 -7.1,39.7 -7.5,39.6 -7.1,39 -7.4,38.4 -7,38.1 -7.2,37.8 -7.5,37.4 -7.4,37.1 -7.9,36.8 -8.4,37 -8.9,36.9 -8.8,37.6 -8.8,38.3 -9.3,38.4 -9.5,38.7 -9.4,39.4 -9.1,39.8 -9,40.2 -8.8,40.8 -8.8,41.2 -9,41.5 -9,41.9"],
  France: [
    "9.6,42.1 9.2,41.4 8.8,41.6 8.5,42.3 8.8,42.6 9.4,43 9.6,42.1",
    "3.6,50.4 4.3,49.9 4.8,50 5.7,49.5 5.9,49.4 6.2,49.5 6.7,49.2 8.1,49 7.6,48.3 7.5,47.6 7.2,47.5 6.7,47.5 6.8,47.3 6,46.7 6,46.3 6.5,46.4 6.8,46 6.8,45.7 7.1,45.3 6.8,45 7,44.3 7.5,44.1 7.4,43.7 6.5,43.1 4.6,43.4 3.1,43.1 3,42.5 1.8,42.3 0.7,42.8 0.3,42.6 -1.5,43 -1.9,43.4 -1.4,44 -1.2,46 -2.2,47.1 -3,47.6 -4.5,48 -4.6,48.7 -3.3,48.9 -1.6,48.6 -1.9,49.8 -1,49.4 1.3,50.1 1.6,51 2.5,51.1 2.7,50.8 3.1,50.8 3.6,50.4",
  ],
  Germany: ["9.9,55 9.9,54.6 11,54.4 10.9,54 12,54.2 12.5,54.5 13.7,54.1 14.1,53.8 14.4,53.3 14.1,53 14.4,52.6 14.7,52.1 14.6,51.8 15,51.1 14.6,51 14.3,51.1 14.1,50.9 13.3,50.7 13,50.5 12.2,50.3 12.4,50 12.5,49.6 13,49.3 13.6,48.9 13.2,48.4 12.9,48.3 13,47.6 12.9,47.5 12.6,47.7 12.1,47.7 11.4,47.5 10.5,47.6 10.4,47.3 9.9,47.6 9.6,47.5 8.5,47.8 8.3,47.6 7.5,47.6 7.6,48.3 8.1,49 6.7,49.2 6.2,49.5 6.2,49.9 6,50.1 6.2,50.8 6,51.9 6.6,51.9 6.8,52.2 7.1,53.1 6.9,53.5 7.9,53.8 8.1,53.5 8.8,54 8.6,54.4 8.5,55 9.3,54.8 9.9,55"],
  Poland: ["15,51.1 14.6,51.8 14.7,52.1 14.4,52.6 14.1,53 14.4,53.3 14.1,53.8 14.8,54.1 16.4,54.5 17.6,54.9 18.6,54.7 18.7,54.4 19.7,54.4 20.9,54.3 22.7,54.3 23.2,54.2 23.5,53.9 23.5,53.5 23.8,53.1 23.2,52.5 23.5,52 23.5,51.6 24,50.7 23.9,50.4 23.4,50.3 22.8,49.6 22.6,49.1 22.3,49.5 21.6,49.5 20.9,49.3 20.4,49.4 19.8,49.2 19.3,49.6 18.9,49.4 18.9,49.5 17.6,50.1 17.6,50.4 16.9,50.5 16.7,50.2 16.2,50.4 16.2,50.7 15.5,50.8 15,51.1"],
  "Czech Republic": ["15,51.1 15.5,50.8 16.2,50.4 16.7,50.2 16.9,50.5 17.6,50.4 17.6,50.1 18.4,50 18.9,49.5 18.6,49.5 18.4,49.3 18.2,49.3 18.1,49 17.9,49 17.9,48.9 17.6,48.8 17.1,48.8 17,48.6 16.5,48.8 16,48.7 15.3,49 14.9,49 14.3,48.6 13.6,48.9 13,49.3 12.5,49.6 12.4,50 12.2,50.3 13,50.5 13.3,50.7 14.1,50.9 14.3,51.1 14.6,51 15,51.1"],
  Switzerland: ["9.6,47.5 9.6,47.4 9.5,47.1 9.9,46.9 10.4,46.9 10.4,46.5 9.9,46.3 9.2,46.4 9,46 8.5,46 8.3,46.2 7.8,45.8 7.3,45.8 6.8,46 6.5,46.4 6,46.3 6,46.7 6.8,47.3 6.7,47.5 7.2,47.5 7.5,47.6 8.3,47.6 8.5,47.8 9.6,47.5"],
  Italy: [
    "12.4,46.8 13.8,46.5 13.7,46 13.9,45.6 13.1,45.7 12.3,45.4 12.4,44.9 12.3,44.6 12.6,44.1 13.5,43.6 14,42.8 15.1,42 15.9,42 16.2,41.7 15.9,41.5 16.8,41.2 17.5,40.9 18.4,40.4 18.5,40.2 18.3,39.8 17.7,40.3 16.9,40.4 16.5,39.8 17.2,39.4 17.1,38.9 16.6,38.8 16.1,38 15.7,37.9 15.7,38.2 15.9,38.8 16.1,39 15.7,39.5 15.4,40.1 14.6,40.2 14.1,40.8 13.6,41.2 12.9,41.3 12.1,41.7 11.2,42.4 10.5,42.9 10.2,43.9 9.7,44 8.9,44.4 8.4,44.2 7.9,43.8 7.4,43.7 7.5,44.1 7,44.3 6.8,45 7.1,45.3 6.8,45.7 6.8,46 7.3,45.8 7.8,45.8 8.3,46.2 8.5,46 9,46 9.2,46.4 9.9,46.3 10.4,46.5 10.4,46.9 11.1,46.8 11.2,46.9 12.2,47.1 12.4,46.8",
    "15.5,38.2 15.2,37.4 15.3,37.1 15.1,36.6 14.3,36.9 13.8,37.1 12.4,37.6 12.6,38.1 13.7,38 14.8,38.1 15.5,38.2",
    "9.2,41.2 9.8,40.5 9.7,39.2 9.2,39.2 8.8,38.9 8.4,39.2 8.4,40.4 8.2,41 8.7,40.9 9.2,41.2",
  ],
  Slovenia: ["13.8,46.5 14.6,46.4 15.1,46.7 16,46.7 16.2,46.9 16.6,46.5 15.8,46.2 15.7,45.8 15.3,45.7 15.3,45.5 14.9,45.5 14.6,45.6 14.4,45.5 13.7,45.5 13.9,45.6 13.7,46 13.8,46.5"],
  Netherlands: ["6.1,53.5 6.9,53.5 7.1,53.1 6.8,52.2 6.6,51.9 6,51.9 6.2,50.8 5.6,51 5,51.5 4.1,51.3 3.3,51.4 3.8,51.6 4.7,53.1 6.1,53.5"],
  Belgium: ["3.3,51.4 4.1,51.3 5,51.5 5.6,51 6.2,50.8 6,50.1 5.8,50.1 5.7,49.5 4.8,50 4.3,49.9 3.6,50.4 3.1,50.8 2.7,50.8 2.5,51.1 3.3,51.4"],
  Japan: [
    "134.6,34.2 134.8,33.8 134.2,33.2 133.8,33.5 133.3,33.3 133,32.7 132.4,33 132.4,33.5 132.9,34.1 133.5,33.9 133.9,34.4 134.6,34.2",
    "131,33.9 132,33.2 131.3,31.5 130.7,31 130.2,31.4 130.5,32.3 129.8,32.6 129.4,33.3 130.4,33.6 130.9,33.9 131,33.9",
    "141.9,39.2 141,38.2 141,37.1 140.6,36.3 140.8,35.8 140.3,35.1 139,34.7 137.2,34.6 135.8,33.5 135.1,33.9 135.1,34.6 133.3,34.4 132.2,33.9 131,33.9 131.3,34.4 132.6,35.4 134.6,35.7 135.7,35.5 136.7,36.8 137.4,36.8 138.9,37.8 139.4,38.2 140.1,39.4 139.9,40.6 140.3,41.2 141.4,41.4 141.9,40 141.9,39.2",
    "144.6,44 145.3,44.4 145.5,43.3 144.1,43 143.2,42 141.6,42.7 141.1,41.6 140,41.6 139.8,42.6 140.3,43.3 141.4,43.4 141.7,44.8 142,45.6 143.1,44.5 143.9,44.2 144.6,44",
  ],
  "South Korea": ["128.4,38.6 129.2,37.4 129.5,36.8 129.5,35.6 129.1,35.1 128.2,34.9 127.4,34.5 126.5,34.4 126.4,34.9 126.6,35.7 126.1,36.7 126.9,36.9 126.2,37.8 126.2,37.8 127.8,38.3 128.4,38.6"],
  Israel: ["35.7,32.7 35.5,32.4 35.2,32.5 35,31.9 35.2,31.8 35,31.6 34.9,31.4 35.4,31.5 35.4,31.1 34.9,29.5 34.3,31.2 34.6,31.6 34.5,31.6 34.8,32.1 35,32.8 35.1,33.1 35.5,33.1 35.6,33.3 35.8,33.3 35.8,32.9 35.7,32.7"],
};

// ---------- Layout of the map (pixels per degree) ----------
const MAP_X0 = 21;
const MAP_Y0 = 2537;
const PX_PER_LON = 8.4;
const PX_PER_LAT = 8.92;

const FONT = "'Open Sans', 'Noto Sans', sans-serif";
const NAVY = "#23456f";
const ICON = "#4a6686";

const DOC_ICON = "M135 52V18H180L192 33V86H152M180 18V33H192M147 47H181M147 58H181M112 73a16 16 0 1 0 32 0a16 16 0 1 0 -32 0M142 86L153 98";
const FLAG_ICON = "M119 1412a5 7 0 0 1 10 0V1473a5 7 0 0 1 -10 0ZM129 1412H178V1440H129";
echarts.graphic.registerShape("docIcon", echarts.graphic.extendPath(DOC_ICON, {}));
echarts.graphic.registerShape("flagIcon", echarts.graphic.extendPath(FLAG_ICON, {}));

const ring = (s: string) => s.trim().split(/\s+/).map((p) => p.split(",").map(Number));
const feature = (name: string, rings: string[]) => ({
  type: "Feature",
  properties: { name },
  geometry: { type: "MultiPolygon", coordinates: rings.map((r) => [ring(r)]) },
});
echarts.registerMap("world", {
  geoJSON: {
    type: "FeatureCollection",
    features: [
      ...Object.keys(LAND).map((k) => feature(k, LAND[k])),
      ...Object.keys(COUNTRIES).map((k) => feature(k, COUNTRIES[k])),
    ],
  } as any,
});

// Colour bar geometry
const BAR = { x: 121, top: 2159, w: 92, h: 857 };
const barY = (v: number) => BAR.top + BAR.h - ((v - COLORBAR_MIN) / (COLORBAR_MAX - COLORBAR_MIN)) * BAR.h;

// Pie geometry + label placement
const PIE = { cx: 1357, cy: 780, r: 571 };
const TOTAL = TOPIC_COUNTS.reduce((a, b) => a + b, 0);
const midAngle = (i: number) => {
  let s = 0;
  for (let k = 0; k < i; k++) s += TOPIC_COUNTS[k];
  return ((s + TOPIC_COUNTS[i] / 2) / TOTAL) * Math.PI * 2;
};
const INSIDE_LABELS: Record<number, { x: number; y: number; rotate: number }> = {
  0: { x: 1532, y: 1008, rotate: 0 },
  6: { x: 1052, y: 412, rotate: -51 },
  7: { x: 1232, y: 350, rotate: 0 },
};
const OUTSIDE_LABELS: Record<number, { y: number; gap: number; bracketY?: number }> = {
  1: { y: 618, gap: 18 },
  2: { y: 557, gap: 20, bracketY: 556 },
  3: { y: 497, gap: 31, bracketY: 495 },
  4: { y: 435, gap: 31, bracketY: 433 },
  5: { y: 374, gap: 31, bracketY: 371 },
};

export default function App() {
  const ref = useRef<HTMLDivElement>(null);
  useEffect(() => {
    document.body.style.margin = "0";
    const chart = echarts.init(ref.current!, undefined, { renderer: "svg" });

    const text = (t: string, x: number, y: number, fontSize: number, align = "left") => ({
      type: "text",
      silent: true,
      x,
      y,
      style: { text: t, fontSize, fontFamily: FONT, fill: NAVY, textAlign: align, textVerticalAlign: "middle" },
    });
    const iconStyle = { fill: "none", stroke: ICON, lineWidth: 4.5 };

    chart.setOption({
      animation: false,
      backgroundColor: "#fff",
      color: TOPIC_COLORS,
      legend: {
        orient: "vertical",
        left: 2023,
        top: 240,
        padding: 0,
        icon: "rect",
        itemWidth: 43,
        itemHeight: 43,
        itemGap: 25.05,
        selectedMode: false,
        data: LEGEND_ORDER,
        textStyle: { color: NAVY, fontSize: 42.7, fontFamily: FONT, padding: [0, 0, 0, 45] },
      },
      visualMap: {
        type: "continuous",
        seriesIndex: 1,
        min: COLORBAR_MIN,
        max: COLORBAR_MAX,
        left: BAR.x,
        top: BAR.top,
        itemWidth: BAR.w,
        itemHeight: BAR.h,
        padding: 0,
        calculable: false,
        realtime: false,
        hoverLink: false,
        showLabel: false,
        text: ["", ""],
        inRange: { color: COLOR_STOPS },
      },
      graphic: [
        text("(A)", 28, 54, 48),
        { type: "docIcon", silent: true, style: iconStyle },
        text("Papers by Topic", 218, 50, 52.7),
        text("(B)", 28, 1446, 48),
        { type: "flagIcon", silent: true, style: iconStyle },
        text("Papers by Country", 201, 1443, 48.4),
        text("No. of Papers", 120, 2112, 43),
        ...COLORBAR_TICKS.map((v) => text(String(v), 221, barY(v) - 1, 37)),
      ],
      series: [
        {
          type: "pie",
          center: [PIE.cx, PIE.cy],
          radius: [0, PIE.r],
          startAngle: 90,
          clockwise: true,
          silent: true,
          avoidLabelOverlap: false,
          percentPrecision: 1,
          itemStyle: { borderWidth: 0 },
          emphasis: { disabled: true },
          label: { formatter: "{d}%", fontSize: 42.7, fontFamily: FONT, color: NAVY },
          labelLine: { show: true, lineStyle: { color: NAVY, width: 4 }, smooth: false },
          labelLayout: (p: any) => {
            const i = p.dataIndex;
            if (INSIDE_LABELS[i]) {
              const l = INSIDE_LABELS[i];
              return { x: l.x, y: l.y, align: "center", verticalAlign: "middle", rotate: l.rotate };
            }
            const o = OUTSIDE_LABELS[i];
            const a = midAngle(i);
            const ex = PIE.cx + PIE.r * Math.sin(a);
            const ey = PIE.cy - PIE.r * Math.cos(a);
            const out: any = { x: ex - o.gap, y: o.y, align: "right", verticalAlign: "middle" };
            if (o.bracketY != null) out.labelLinePoints = [[ex - 15, o.bracketY], [ex, o.bracketY], [ex, ey]];
            return out;
          },
          data: TOPICS.map((name, i) => {
            const inside = !!INSIDE_LABELS[i];
            return {
              name,
              value: TOPIC_COUNTS[i],
              label: inside ? { position: "inside", color: "#444" } : { position: "outside" },
              labelLine: { show: !inside && OUTSIDE_LABELS[i].bracketY != null },
            };
          }),
        },
        {
          type: "map",
          map: "world",
          silent: true,
          roam: false,
          left: 0,
          top: 0,
          width: 3061,
          height: 3048,
          aspectScale: 1,
          boundingCoords: [
            [(0 - MAP_X0) / PX_PER_LON - 180, MAP_Y0 / PX_PER_LAT],
            [(3061 - MAP_X0) / PX_PER_LON - 180, (MAP_Y0 - 3048) / PX_PER_LAT],
          ],
          projection: {
            project: (c: number[]) => [MAP_X0 + (c[0] + 180) * PX_PER_LON, MAP_Y0 - c[1] * PX_PER_LAT],
            unproject: (p: number[]) => [(p[0] - MAP_X0) / PX_PER_LON - 180, (MAP_Y0 - p[1]) / PX_PER_LAT],
          },
          selectedMode: false,
          showLegendSymbol: false,
          label: { show: false },
          emphasis: { disabled: true },
          itemStyle: { areaColor: "#d3d3d3", borderWidth: 0, borderColor: "#d3d3d3" },
          data: COUNTRY_VALUES.map(([name, value]) => ({
            name,
            value,
            itemStyle: { borderColor: "#444", borderWidth: 5.5 },
          })),
        },
      ],
    });
    return () => chart.dispose();
  }, []);
  return <div ref={ref} style={{ position: "absolute", left: 0, top: 0, width: 3061, height: 3048 }} />;
}
